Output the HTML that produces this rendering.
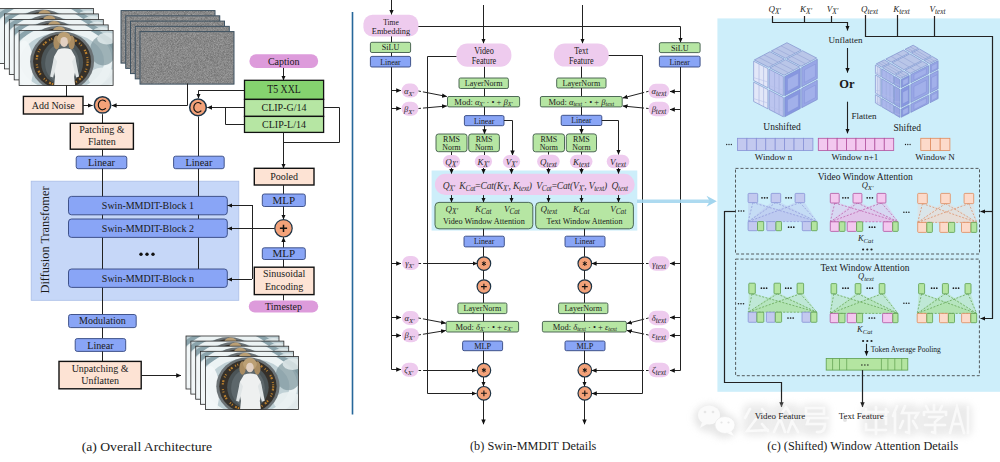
<!DOCTYPE html>
<html><head><meta charset="utf-8"><style>
html,body{margin:0;padding:0;background:#fff;width:1000px;height:462px;overflow:hidden;font-family:"Liberation Serif",serif;}
svg{display:block}
</style></head><body>
<svg width="1000" height="462" viewBox="0 0 1000 462" font-family="Liberation Serif">
<defs>
<marker id="ah" markerWidth="6" markerHeight="6" refX="4.8" refY="3" orient="auto" markerUnits="userSpaceOnUse"><path d="M0 0.8 L5 3 L0 5.2 Z" fill="#111"/></marker>
<marker id="ahb" markerWidth="12" markerHeight="12" refX="10" refY="6" orient="auto" markerUnits="userSpaceOnUse"><path d="M0 0 L11 6 L0 12 Z" fill="#8ecfea"/></marker>
<radialGradient id="pbg" cx="0.5" cy="0.55" r="0.65"><stop offset="0" stop-color="#cfd8da"/><stop offset="0.5" stop-color="#aebfc4"/><stop offset="0.8" stop-color="#dce6e8"/><stop offset="1" stop-color="#9fb1b6"/></radialGradient>
<radialGradient id="pring" cx="0.5" cy="0.5" r="0.5"><stop offset="0" stop-color="#5a5046"/><stop offset="0.6" stop-color="#3b342c"/><stop offset="0.85" stop-color="#6b6a68"/><stop offset="1" stop-color="#9aa8ac" stop-opacity="0"/></radialGradient>
<filter id="nz" x="0" y="0" width="1" height="1" color-interpolation-filters="sRGB"><feTurbulence type="fractalNoise" baseFrequency="1.7" numOctaves="1" seed="3"/><feColorMatrix type="matrix" values="0.32 0 0 0 0.375  0.32 0 0 0 0.375  0.32 0 0 0 0.375  0 0 0 0 1"/><feGaussianBlur stdDeviation="0.35"/><feComposite in2="SourceGraphic" operator="in"/></filter>
<symbol id="photo" viewBox="0 0 94 55" preserveAspectRatio="none">
<rect width="94" height="55" fill="#c0d1d6"/>
<ellipse cx="43" cy="31" rx="56" ry="37" fill="none" stroke="#75919a" stroke-width="5" opacity="0.7"/>
<ellipse cx="43" cy="31" rx="46" ry="33" fill="none" stroke="#eef4f5" stroke-width="8" opacity="0.95"/>
<ellipse cx="5" cy="36" rx="9" ry="26" fill="#f2f7f8" opacity="0.95"/>
<ellipse cx="84" cy="47" rx="15" ry="10" fill="#eaf1f2" opacity="0.9"/>
<ellipse cx="84" cy="20" rx="13" ry="15" fill="#7d959d" opacity="0.7"/><ellipse cx="88" cy="8" rx="10" ry="6" fill="#e4ecee" opacity="0.8"/>
<ellipse cx="43" cy="31" rx="32" ry="30" fill="#6b7275"/>
<ellipse cx="43" cy="31" rx="29" ry="27.5" fill="#35302a"/>
<ellipse cx="43" cy="31" rx="25.5" ry="24.5" fill="none" stroke="#c98a30" stroke-width="2.2" stroke-dasharray="1.5,1,2,3,1,1.5,1,5" opacity="0.9"/>
<ellipse cx="43" cy="32" rx="21" ry="22.5" fill="#4b5457"/><ellipse cx="43" cy="33" rx="17" ry="20" fill="#5d676b"/>
<ellipse cx="37.5" cy="12" rx="3.2" ry="7" fill="#a98c62"/>
<ellipse cx="52.5" cy="12" rx="3.2" ry="7" fill="#a98c62"/>
<ellipse cx="45" cy="8" rx="7" ry="6.5" fill="#bb9f74"/>
<ellipse cx="45" cy="11.5" rx="3.8" ry="5" fill="#e2d0c2"/>
<path d="M39 19 Q45.5 16.5 52 19 L56 26 Q57.5 37 55 46 L56 55 L35 55 L36 46 Q33.5 37 35 26 Z" fill="#eef0f0"/>
<path d="M35 26 L31 46 L34 47 L38 31 Z M56 26 L60 46 L57 47 L53 31 Z" fill="#e0e5e6"/>
</symbol>
<filter id="wmb" x="-20%" y="-20%" width="140%" height="140%"><feGaussianBlur stdDeviation="3.5"/></filter>
</defs>
<rect width="1000" height="462" fill="#fff"/>
<use href="#photo" x="-0.5" y="8.4" width="94" height="55"/>
<rect x="-0.5" y="8.4" width="94" height="55" fill="none" stroke="#2b2b2b" stroke-width="0.8"/>
<use href="#photo" x="4.4" y="13.9" width="94" height="55"/>
<rect x="4.4" y="13.9" width="94" height="55" fill="none" stroke="#2b2b2b" stroke-width="0.8"/>
<use href="#photo" x="9.3" y="19.4" width="94" height="55"/>
<rect x="9.3" y="19.4" width="94" height="55" fill="none" stroke="#2b2b2b" stroke-width="0.8"/>
<use href="#photo" x="14.200000000000001" y="24.9" width="94" height="55"/>
<rect x="14.200000000000001" y="24.9" width="94" height="55" fill="none" stroke="#2b2b2b" stroke-width="0.8"/>
<use href="#photo" x="19.1" y="30.4" width="94" height="55"/>
<rect x="19.1" y="30.4" width="94" height="55" fill="none" stroke="#2b2b2b" stroke-width="0.8"/>
<path d="M66.5 85.4 L66.5 96.4" fill="none" stroke="#222" stroke-width="1"/>
<rect x="23.4" y="96.4" width="59.6" height="17.6" rx="0" fill="#fde3d4" stroke="#111" stroke-width="1.4" />
<text x="53.2" y="108.60000000000001" font-size="10" text-anchor="middle" fill="#1a1a1a" font-style="normal" font-weight="normal" >Add Noise</text>
<path d="M83 105.5 L92.6 105.5" fill="none" stroke="#222" stroke-width="1" marker-end="url(#ah)"/>
<rect x="121.0" y="10.6" width="94" height="52.5" fill="#8c8c8c"/>
<rect x="121.0" y="10.6" width="94" height="52.5" fill="#000" filter="url(#nz)"/>
<rect x="121.0" y="10.6" width="94" height="52.5" fill="none" stroke="#3e5262" stroke-width="1"/>
<rect x="125.75" y="15.85" width="94" height="52.5" fill="#8c8c8c"/>
<rect x="125.75" y="15.85" width="94" height="52.5" fill="#000" filter="url(#nz)"/>
<rect x="125.75" y="15.85" width="94" height="52.5" fill="none" stroke="#3e5262" stroke-width="1"/>
<rect x="130.5" y="21.1" width="94" height="52.5" fill="#8c8c8c"/>
<rect x="130.5" y="21.1" width="94" height="52.5" fill="#000" filter="url(#nz)"/>
<rect x="130.5" y="21.1" width="94" height="52.5" fill="none" stroke="#3e5262" stroke-width="1"/>
<rect x="135.25" y="26.35" width="94" height="52.5" fill="#8c8c8c"/>
<rect x="135.25" y="26.35" width="94" height="52.5" fill="#000" filter="url(#nz)"/>
<rect x="135.25" y="26.35" width="94" height="52.5" fill="none" stroke="#3e5262" stroke-width="1"/>
<rect x="140.0" y="31.6" width="94" height="52.5" fill="#8c8c8c"/>
<rect x="140.0" y="31.6" width="94" height="52.5" fill="#000" filter="url(#nz)"/>
<rect x="140.0" y="31.6" width="94" height="52.5" fill="none" stroke="#3e5262" stroke-width="1"/>
<path d="M187.5 83.5 L187.5 105.5 L111.8 105.5" fill="none" stroke="#222" stroke-width="1" marker-end="url(#ah)"/>
<circle cx="102.5" cy="104.9" r="8.2" fill="#f3a279" stroke="#1c3346" stroke-width="1.5"/>
<path d="M105.80 101.62 A4.3 4.9 0 1 0 105.80 108.18" fill="none" stroke="#111" stroke-width="1.15"/>
<path d="M102.5 114.2 L102.5 123.3" fill="none" stroke="#222" stroke-width="1"/>
<rect x="70.3" y="123.3" width="63.1" height="25.9" rx="0" fill="#fde3d4" stroke="#111" stroke-width="1.4" />
<text x="101.85" y="132.79999999999998" font-size="10" text-anchor="middle" fill="#1a1a1a" font-style="normal" font-weight="normal" >Patching &amp;</text>
<text x="101.85" y="144.89999999999998" font-size="10" text-anchor="middle" fill="#1a1a1a" font-style="normal" font-weight="normal" >Flatten</text>
<path d="M102.5 149.2 L102.5 156.2" fill="none" stroke="#222" stroke-width="1"/>
<rect x="76.2" y="156.2" width="50.6" height="12.5" rx="2" fill="#89a5f6" stroke="#33467f" stroke-width="0.9" />
<text x="101.5" y="166.19" font-size="11" text-anchor="middle" fill="#1a1a1a" font-style="normal" font-weight="normal"  textLength="27" lengthAdjust="spacingAndGlyphs">Linear</text>
<path d="M244.5 90.5 L198.5 90.5 L198.5 98.3" fill="none" stroke="#222" stroke-width="1" marker-end="url(#ah)"/>
<path d="M244.5 107.5 L207.3 107.5" fill="none" stroke="#222" stroke-width="1" marker-end="url(#ah)"/>
<path d="M244.5 124.5 L225.5 124.5 L225.5 107.5" fill="none" stroke="#222" stroke-width="1"/>
<circle cx="198" cy="107.4" r="8.3" fill="#f3a279" stroke="#1c3346" stroke-width="1.5"/>
<path d="M201.30 104.12 A4.3 4.9 0 1 0 201.30 110.68" fill="none" stroke="#111" stroke-width="1.15"/>
<path d="M198.5 116.5 L198.5 156.2" fill="none" stroke="#222" stroke-width="1"/>
<rect x="173.6" y="156.2" width="50.6" height="12.5" rx="2" fill="#89a5f6" stroke="#33467f" stroke-width="0.9" />
<text x="198.9" y="166.19" font-size="11" text-anchor="middle" fill="#1a1a1a" font-style="normal" font-weight="normal"  textLength="27" lengthAdjust="spacingAndGlyphs">Linear</text>
<rect x="31.2" y="181.2" width="207.6" height="119.1" rx="0" fill="#c6d7f8" stroke="#a9bde6" stroke-width="0.8" />
<path d="M102.5 168.7 L102.5 314.5" fill="none" stroke="#222" stroke-width="1"/>
<path d="M198.5 168.7 L198.5 269" fill="none" stroke="#222" stroke-width="1"/>
<rect x="68.5" y="196.4" width="158.8" height="18.4" rx="3" fill="#89a5f6" stroke="#33467f" stroke-width="0.9" />
<text x="147.9" y="209.0" font-size="10" text-anchor="middle" fill="#1a1a1a" font-style="normal" font-weight="normal" >Swin-MMDIT-Block 1</text>
<rect x="68.5" y="219" width="158.8" height="18.4" rx="3" fill="#89a5f6" stroke="#33467f" stroke-width="0.9" />
<text x="147.9" y="231.6" font-size="10" text-anchor="middle" fill="#1a1a1a" font-style="normal" font-weight="normal" >Swin-MMDIT-Block 2</text>
<rect x="68.5" y="269" width="158.8" height="18.4" rx="3" fill="#89a5f6" stroke="#33467f" stroke-width="0.9" />
<text x="147.9" y="281.6" font-size="10" text-anchor="middle" fill="#1a1a1a" font-style="normal" font-weight="normal" >Swin-MMDIT-Block n</text>
<circle cx="141" cy="254.2" r="1.7" fill="#111"/>
<circle cx="147" cy="254.2" r="1.7" fill="#111"/>
<circle cx="153" cy="254.2" r="1.7" fill="#111"/>
<text x="0" y="0" font-size="12.3" text-anchor="middle" fill="#1a1a1a" font-style="normal" font-weight="normal" transform="translate(49.3,240) rotate(-90)" textLength="107" lengthAdjust="spacingAndGlyphs">Diffusion Transfomer</text>
<rect x="249.4" y="54.2" width="68.8" height="13.7" rx="6.8" fill="#dd9bdb" stroke="none" stroke-width="0" />
<text x="283.8" y="64.6" font-size="10" text-anchor="middle" fill="#1a1a1a" font-style="normal" font-weight="normal" >Caption</text>
<path d="M283.5 67.9 L283.5 80.3" fill="none" stroke="#222" stroke-width="1" marker-end="url(#ah)"/>
<rect x="244.5" y="80.3" width="79.1" height="19.1" rx="0" fill="#85d36f" stroke="#111" stroke-width="1.3" />
<text x="284" y="93.3" font-size="11.5" text-anchor="middle" fill="#1a1a1a" font-style="normal" font-weight="normal" textLength="33.6" lengthAdjust="spacingAndGlyphs">T5 XXL</text>
<rect x="244.5" y="99.4" width="79.1" height="17" rx="0" fill="#b6e6a3" stroke="#111" stroke-width="1.3" />
<text x="284" y="111.3" font-size="10" text-anchor="middle" fill="#1a1a1a" font-style="normal" font-weight="normal" >CLIP-G/14</text>
<rect x="244.5" y="116.4" width="79.1" height="16" rx="0" fill="#b6e6a3" stroke="#111" stroke-width="1.3" />
<text x="284" y="128" font-size="10" text-anchor="middle" fill="#1a1a1a" font-style="normal" font-weight="normal" >CLIP-L/14</text>
<path d="M323.6 107.5 L339.5 107.5 L339.5 142.5 L283.3 142.5" fill="none" stroke="#222" stroke-width="1"/>
<path d="M283.5 132.4 L283.5 168.3" fill="none" stroke="#222" stroke-width="1" marker-end="url(#ah)"/>
<rect x="254.3" y="168.3" width="59.7" height="16.7" rx="0" fill="#fde3d4" stroke="#111" stroke-width="1.4" />
<text x="284.15000000000003" y="180.05" font-size="10" text-anchor="middle" fill="#1a1a1a" font-style="normal" font-weight="normal" >Pooled</text>
<path d="M283.5 185 L283.5 194" fill="none" stroke="#222" stroke-width="1"/>
<rect x="262.3" y="194" width="43" height="12.5" rx="2" fill="#89a5f6" stroke="#33467f" stroke-width="0.9" />
<text x="283.8" y="203.99" font-size="11" text-anchor="middle" fill="#1a1a1a" font-style="normal" font-weight="normal" >MLP</text>
<path d="M283.5 206.5 L283.5 219.4" fill="none" stroke="#222" stroke-width="1" marker-end="url(#ah)"/>
<path d="M274.8 228.5 L227.6 228.5" fill="none" stroke="#222" stroke-width="1" marker-end="url(#ah)"/>
<path d="M252.5 205 L252.5 279" fill="none" stroke="#222" stroke-width="1"/>
<path d="M252 205.5 L227.6 205.5" fill="none" stroke="#222" stroke-width="1" marker-end="url(#ah)"/>
<path d="M252 279.5 L227.6 279.5" fill="none" stroke="#222" stroke-width="1" marker-end="url(#ah)"/>
<circle cx="283.5" cy="228.3" r="8.7" fill="#f3a279" stroke="#1c3346" stroke-width="1.2"/>
<path d="M279.9 228.3 H287.1 M283.5 224.70000000000002 V231.9" stroke="#111" stroke-width="1.5"/>
<path d="M283.5 247.8 L283.5 237.2" fill="none" stroke="#222" stroke-width="1" marker-end="url(#ah)"/>
<rect x="262.3" y="247.8" width="43" height="11.7" rx="2" fill="#89a5f6" stroke="#33467f" stroke-width="0.9" />
<text x="283.8" y="257.39" font-size="11" text-anchor="middle" fill="#1a1a1a" font-style="normal" font-weight="normal" >MLP</text>
<path d="M283.5 259.5 L283.5 267.2" fill="none" stroke="#222" stroke-width="1"/>
<rect x="254.3" y="267.2" width="59.7" height="27.4" rx="0" fill="#fde3d4" stroke="#111" stroke-width="1.4" />
<text x="284.15000000000003" y="277.45" font-size="10" text-anchor="middle" fill="#1a1a1a" font-style="normal" font-weight="normal" >Sinusoidal</text>
<text x="284.15000000000003" y="289.55" font-size="10" text-anchor="middle" fill="#1a1a1a" font-style="normal" font-weight="normal" >Encoding</text>
<path d="M283.5 294.6 L283.5 300.5" fill="none" stroke="#222" stroke-width="1"/>
<rect x="248.8" y="300.5" width="69.4" height="12.1" rx="6" fill="#dd9bdb" stroke="none" stroke-width="0" />
<text x="283.5" y="309.9" font-size="10" text-anchor="middle" fill="#1a1a1a" font-style="normal" font-weight="normal" >Timestep</text>
<rect x="68.6" y="314.5" width="67.6" height="13.1" rx="2" fill="#89a5f6" stroke="#33467f" stroke-width="0.9" />
<text x="102.39999999999999" y="324.45" font-size="10" text-anchor="middle" fill="#1a1a1a" font-style="normal" font-weight="normal" >Modulation</text>
<path d="M102.5 327.6 L102.5 338.6" fill="none" stroke="#222" stroke-width="1"/>
<rect x="75.2" y="338.6" width="50.5" height="12.8" rx="2" fill="#89a5f6" stroke="#33467f" stroke-width="0.9" />
<text x="100.45" y="348.74" font-size="11" text-anchor="middle" fill="#1a1a1a" font-style="normal" font-weight="normal"  textLength="26.5" lengthAdjust="spacingAndGlyphs">Linear</text>
<path d="M102.5 351.4 L102.5 361.4" fill="none" stroke="#222" stroke-width="1"/>
<rect x="59" y="361.4" width="82.2" height="27.4" rx="0" fill="#fde3d4" stroke="#111" stroke-width="1.4" />
<text x="100.1" y="371.65" font-size="10" text-anchor="middle" fill="#1a1a1a" font-style="normal" font-weight="normal" >Unpatching &amp;</text>
<text x="100.1" y="383.75" font-size="10" text-anchor="middle" fill="#1a1a1a" font-style="normal" font-weight="normal" >Unflatten</text>
<path d="M141.2 375.5 L181 375.5" fill="none" stroke="#222" stroke-width="1" marker-end="url(#ah)"/>
<use href="#photo" x="186.0" y="336.0" width="93" height="53"/>
<rect x="186.0" y="336.0" width="93" height="53" fill="none" stroke="#2b2b2b" stroke-width="0.8"/>
<use href="#photo" x="190.85" y="341.1" width="93" height="53"/>
<rect x="190.85" y="341.1" width="93" height="53" fill="none" stroke="#2b2b2b" stroke-width="0.8"/>
<use href="#photo" x="195.7" y="346.2" width="93" height="53"/>
<rect x="195.7" y="346.2" width="93" height="53" fill="none" stroke="#2b2b2b" stroke-width="0.8"/>
<use href="#photo" x="200.55" y="351.3" width="93" height="53"/>
<rect x="200.55" y="351.3" width="93" height="53" fill="none" stroke="#2b2b2b" stroke-width="0.8"/>
<use href="#photo" x="205.4" y="356.4" width="93" height="53"/>
<rect x="205.4" y="356.4" width="93" height="53" fill="none" stroke="#2b2b2b" stroke-width="0.8"/>
<text x="146.9" y="450.5" font-size="13.5" text-anchor="middle" fill="#1a1a1a" font-style="normal" font-weight="normal" textLength="130.5" lengthAdjust="spacingAndGlyphs">(a) Overall Architecture</text>
<path d="M352.5 12 L352.5 414.5" fill="none" stroke="#26679a" stroke-width="1.6"/>
<path d="M391.5 0 L391.5 14.6" fill="none" stroke="#222" stroke-width="1" marker-end="url(#ah)"/>
<rect x="363.4" y="14.8" width="55" height="21.6" rx="9" fill="#eecbee" stroke="none" stroke-width="0" />
<text x="391" y="25" font-size="8.5" text-anchor="middle" fill="#1a1a1a" font-style="normal" font-weight="normal"  textLength="15.5" lengthAdjust="spacingAndGlyphs">Time</text>
<text x="391" y="34" font-size="8.5" text-anchor="middle" fill="#1a1a1a" font-style="normal" font-weight="normal"  textLength="38.4" lengthAdjust="spacingAndGlyphs">Embedding</text>
<path d="M418.4 26.5 L680.5 26.5 L680.5 42.5" fill="none" stroke="#222" stroke-width="1" marker-end="url(#ah)"/>
<path d="M391.5 36.4 L391.5 369.5 L401 369.5" fill="none" stroke="#222" stroke-width="1" marker-end="url(#ah)"/>
<rect x="370.4" y="42.3" width="40.2" height="10.2" rx="1.5" fill="#b6e6a3" stroke="#3e5a48" stroke-width="0.9" />
<text x="390.5" y="50.46" font-size="9" text-anchor="middle" fill="#1a1a1a" font-style="normal" font-weight="normal"  textLength="17.6" lengthAdjust="spacingAndGlyphs">SiLU</text>
<rect x="370.4" y="56.4" width="40.2" height="10.6" rx="1.5" fill="#89a5f6" stroke="#33467f" stroke-width="0.9" />
<text x="390.5" y="64.75999999999999" font-size="9" text-anchor="middle" fill="#1a1a1a" font-style="normal" font-weight="normal"  textLength="20.3" lengthAdjust="spacingAndGlyphs">Linear</text>
<path d="M391 90.5 L401 90.5" fill="none" stroke="#222" stroke-width="1" marker-end="url(#ah)"/>
<path d="M391 108.5 L401 108.5" fill="none" stroke="#222" stroke-width="1" marker-end="url(#ah)"/>
<path d="M391 263.5 L401 263.5" fill="none" stroke="#222" stroke-width="1" marker-end="url(#ah)"/>
<path d="M391 317.5 L401 317.5" fill="none" stroke="#222" stroke-width="1" marker-end="url(#ah)"/>
<path d="M391 335.5 L401 335.5" fill="none" stroke="#222" stroke-width="1" marker-end="url(#ah)"/>
<rect x="401.5" y="83.6" width="17" height="14" rx="7.0" fill="#eecbee"/>
<text x="409" y="93.6" font-size="8.5" text-anchor="middle" font-style="italic" fill="#262626">α<tspan font-size="6.72" dy="2">X&#8242;</tspan></text>
<rect x="401.5" y="101.7" width="17" height="14" rx="7.0" fill="#eecbee"/>
<text x="409" y="111.7" font-size="8.5" text-anchor="middle" font-style="italic" fill="#262626">β<tspan font-size="6.72" dy="2">X&#8242;</tspan></text>
<rect x="402.1" y="256.0" width="17" height="14" rx="7.0" fill="#eecbee"/>
<text x="409.6" y="266" font-size="8.5" text-anchor="middle" font-style="italic" fill="#262626">γ<tspan font-size="6.72" dy="2">X&#8242;</tspan></text>
<rect x="402.0" y="310.9" width="17" height="14" rx="7.0" fill="#eecbee"/>
<text x="409.5" y="320.9" font-size="8.5" text-anchor="middle" font-style="italic" fill="#262626">α<tspan font-size="6.72" dy="2">X&#8242;</tspan></text>
<rect x="402.0" y="328.2" width="17" height="14" rx="7.0" fill="#eecbee"/>
<text x="409.5" y="338.2" font-size="8.5" text-anchor="middle" font-style="italic" fill="#262626">β<tspan font-size="6.72" dy="2">X&#8242;</tspan></text>
<rect x="401.3" y="362.8" width="17" height="14" rx="7.0" fill="#eecbee"/>
<text x="408.8" y="372.8" font-size="8.5" text-anchor="middle" font-style="italic" fill="#262626">ζ<tspan font-size="6.72" dy="2">X&#8242;</tspan></text>
<path d="M483.5 5 L483.5 43.4" fill="none" stroke="#222" stroke-width="1" marker-end="url(#ah)"/>
<rect x="456.4" y="43.6" width="55" height="23.2" rx="11" fill="#eecbee" stroke="none" stroke-width="0" />
<text x="484" y="53.5" font-size="9.5" text-anchor="middle" fill="#1a1a1a" font-style="normal" font-weight="normal"  textLength="19.6" lengthAdjust="spacingAndGlyphs">Video</text>
<text x="484" y="63.5" font-size="9.5" text-anchor="middle" fill="#1a1a1a" font-style="normal" font-weight="normal"  textLength="24.5" lengthAdjust="spacingAndGlyphs">Feature</text>
<path d="M456.4 56.5 L427.5 56.5 L427.5 393.5 L476.5 393.5" fill="none" stroke="#222" stroke-width="1" marker-end="url(#ah)"/>
<path d="M484.5 66.8 L484.5 78" fill="none" stroke="#222" stroke-width="1"/>
<rect x="459" y="78" width="49.4" height="10.5" rx="1.5" fill="#b6e6a3" stroke="#3e5a48" stroke-width="0.9" />
<text x="483.7" y="86.14" font-size="8.5" text-anchor="middle" fill="#1a1a1a" font-style="normal" font-weight="normal"  textLength="37.7" lengthAdjust="spacingAndGlyphs">LayerNorm</text>
<path d="M484.5 88.5 L484.5 96.5" fill="none" stroke="#222" stroke-width="1"/>
<rect x="447.5" y="96.5" width="72.1" height="10.4" rx="1.5" fill="#b6e6a3" stroke="#3e5a48" stroke-width="0.9" />
<text x="483.5" y="104.5" font-size="8.5" text-anchor="middle" fill="#222">Mod: <tspan font-style="italic">α</tspan><tspan font-size="6" dy="1.5" font-style="italic">X&#8242;</tspan><tspan dy="-1.5"> · • + </tspan><tspan font-style="italic">β</tspan><tspan font-size="6" dy="1.5" font-style="italic">X&#8242;</tspan></text>
<path d="M484.5 106.9 L484.5 115.6" fill="none" stroke="#222" stroke-width="1"/>
<rect x="464.4" y="115.6" width="39.6" height="10.1" rx="1.5" fill="#89a5f6" stroke="#33467f" stroke-width="0.9" />
<text x="484.2" y="123.71" font-size="9" text-anchor="middle" fill="#1a1a1a" font-style="normal" font-weight="normal"  textLength="20.3" lengthAdjust="spacingAndGlyphs">Linear</text>
<path d="M484.5 125.7 L484.5 134" fill="none" stroke="#222" stroke-width="1" marker-end="url(#ah)"/>
<path d="M504 120.5 L512.5 120.5 L512.5 155.2" fill="none" stroke="#222" stroke-width="1" marker-end="url(#ah)"/>
<rect x="436" y="134" width="31" height="17.7" rx="2.5" fill="#b6e6a3" stroke="#3e5a48" stroke-width="0.9" />
<text x="451.5" y="141.5" font-size="8.5" text-anchor="middle" fill="#1a1a1a" font-style="normal" font-weight="normal"  textLength="16.8" lengthAdjust="spacingAndGlyphs">RMS</text>
<text x="451.5" y="150" font-size="8.5" text-anchor="middle" fill="#1a1a1a" font-style="normal" font-weight="normal"  textLength="18.3" lengthAdjust="spacingAndGlyphs">Norm</text>
<rect x="468.7" y="134" width="30.7" height="17.7" rx="2.5" fill="#b6e6a3" stroke="#3e5a48" stroke-width="0.9" />
<text x="484.05" y="141.5" font-size="8.5" text-anchor="middle" fill="#1a1a1a" font-style="normal" font-weight="normal"  textLength="16.8" lengthAdjust="spacingAndGlyphs">RMS</text>
<text x="484.05" y="150" font-size="8.5" text-anchor="middle" fill="#1a1a1a" font-style="normal" font-weight="normal"  textLength="18.3" lengthAdjust="spacingAndGlyphs">Norm</text>
<path d="M451.5 151.7 L451.5 155.2" fill="none" stroke="#222" stroke-width="1"/>
<path d="M484.5 151.7 L484.5 155.2" fill="none" stroke="#222" stroke-width="1"/>
<path d="M582.5 5 L582.5 43.4" fill="none" stroke="#222" stroke-width="1" marker-end="url(#ah)"/>
<rect x="553.9" y="43.6" width="54.8" height="23" rx="11" fill="#eecbee" stroke="none" stroke-width="0" />
<text x="581.3" y="53.5" font-size="9.5" text-anchor="middle" fill="#1a1a1a" font-style="normal" font-weight="normal"  textLength="14" lengthAdjust="spacingAndGlyphs">Text</text>
<text x="581.3" y="63.5" font-size="9.5" text-anchor="middle" fill="#1a1a1a" font-style="normal" font-weight="normal"  textLength="24.5" lengthAdjust="spacingAndGlyphs">Feature</text>
<path d="M608.7 55.5 L642.5 55.5 L642.5 393.5 L592 393.5" fill="none" stroke="#222" stroke-width="1" marker-end="url(#ah)"/>
<path d="M581.5 66.6 L581.5 78" fill="none" stroke="#222" stroke-width="1"/>
<rect x="556.7" y="78" width="49.3" height="10" rx="1.5" fill="#b6e6a3" stroke="#3e5a48" stroke-width="0.9" />
<text x="581.35" y="85.89" font-size="8.5" text-anchor="middle" fill="#1a1a1a" font-style="normal" font-weight="normal"  textLength="37.7" lengthAdjust="spacingAndGlyphs">LayerNorm</text>
<path d="M581.5 88 L581.5 96.5" fill="none" stroke="#222" stroke-width="1"/>
<rect x="540.4" y="96.5" width="81.8" height="10.4" rx="1.5" fill="#b6e6a3" stroke="#3e5a48" stroke-width="0.9" />
<text x="581.3" y="104.5" font-size="8.5" text-anchor="middle" fill="#222">Mod: <tspan font-style="italic">α</tspan><tspan font-size="6" dy="1.5" font-style="italic">text</tspan><tspan dy="-1.5"> · • + </tspan><tspan font-style="italic">β</tspan><tspan font-size="6" dy="1.5" font-style="italic">text</tspan></text>
<path d="M581.5 106.9 L581.5 115.3" fill="none" stroke="#222" stroke-width="1"/>
<rect x="561.2" y="115.3" width="40.6" height="10.2" rx="1.5" fill="#89a5f6" stroke="#33467f" stroke-width="0.9" />
<text x="581.5" y="123.46" font-size="9" text-anchor="middle" fill="#1a1a1a" font-style="normal" font-weight="normal"  textLength="20.3" lengthAdjust="spacingAndGlyphs">Linear</text>
<path d="M581.5 125.5 L581.5 133.9" fill="none" stroke="#222" stroke-width="1" marker-end="url(#ah)"/>
<path d="M601.8 120.5 L618.5 120.5 L618.5 154.5" fill="none" stroke="#222" stroke-width="1" marker-end="url(#ah)"/>
<rect x="533.1" y="133.9" width="31.4" height="17.9" rx="2.5" fill="#b6e6a3" stroke="#3e5a48" stroke-width="0.9" />
<text x="548.8000000000001" y="141.5" font-size="8.5" text-anchor="middle" fill="#1a1a1a" font-style="normal" font-weight="normal"  textLength="16.8" lengthAdjust="spacingAndGlyphs">RMS</text>
<text x="548.8000000000001" y="150" font-size="8.5" text-anchor="middle" fill="#1a1a1a" font-style="normal" font-weight="normal"  textLength="18.3" lengthAdjust="spacingAndGlyphs">Norm</text>
<rect x="566.3" y="133.9" width="30.2" height="17.9" rx="2.5" fill="#b6e6a3" stroke="#3e5a48" stroke-width="0.9" />
<text x="581.4" y="141.5" font-size="8.5" text-anchor="middle" fill="#1a1a1a" font-style="normal" font-weight="normal"  textLength="16.8" lengthAdjust="spacingAndGlyphs">RMS</text>
<text x="581.4" y="150" font-size="8.5" text-anchor="middle" fill="#1a1a1a" font-style="normal" font-weight="normal"  textLength="18.3" lengthAdjust="spacingAndGlyphs">Norm</text>
<path d="M548.5 151.8 L548.5 154.7" fill="none" stroke="#222" stroke-width="1"/>
<path d="M581.5 151.8 L581.5 154.7" fill="none" stroke="#222" stroke-width="1"/>
<rect x="659.4" y="42.7" width="40.7" height="9.9" rx="1.5" fill="#b6e6a3" stroke="#3e5a48" stroke-width="0.9" />
<text x="679.75" y="50.71000000000001" font-size="9" text-anchor="middle" fill="#1a1a1a" font-style="normal" font-weight="normal"  textLength="17.6" lengthAdjust="spacingAndGlyphs">SiLU</text>
<rect x="659.4" y="56.2" width="40.7" height="10.8" rx="1.5" fill="#89a5f6" stroke="#33467f" stroke-width="0.9" />
<text x="679.75" y="64.66" font-size="9" text-anchor="middle" fill="#1a1a1a" font-style="normal" font-weight="normal"  textLength="20.3" lengthAdjust="spacingAndGlyphs">Linear</text>
<path d="M680.5 67 L680.5 370.5 L670 370.5" fill="none" stroke="#222" stroke-width="1" marker-end="url(#ah)"/>
<path d="M680 91.5 L670 91.5" fill="none" stroke="#222" stroke-width="1" marker-end="url(#ah)"/>
<path d="M680 109.5 L670 109.5" fill="none" stroke="#222" stroke-width="1" marker-end="url(#ah)"/>
<path d="M680 263.5 L670 263.5" fill="none" stroke="#222" stroke-width="1" marker-end="url(#ah)"/>
<path d="M680 317.5 L670 317.5" fill="none" stroke="#222" stroke-width="1" marker-end="url(#ah)"/>
<path d="M680 335.5 L670 335.5" fill="none" stroke="#222" stroke-width="1" marker-end="url(#ah)"/>
<rect x="648.5" y="83.85" width="21" height="14.5" rx="7.25" fill="#eecbee"/>
<text x="659" y="94.1" font-size="8.5" text-anchor="middle" font-style="italic" fill="#262626">α<tspan font-size="7.28" dy="2">text</tspan></text>
<rect x="648.5" y="101.75" width="21" height="14.5" rx="7.25" fill="#eecbee"/>
<text x="659" y="112" font-size="8.5" text-anchor="middle" font-style="italic" fill="#262626">β<tspan font-size="7.28" dy="2">text</tspan></text>
<rect x="648.7" y="256.35" width="21" height="14.5" rx="7.25" fill="#eecbee"/>
<text x="659.2" y="266.6" font-size="8.5" text-anchor="middle" font-style="italic" fill="#262626">γ<tspan font-size="7.28" dy="2">text</tspan></text>
<rect x="648.5" y="310.65" width="21" height="14.5" rx="7.25" fill="#eecbee"/>
<text x="659" y="320.9" font-size="8.5" text-anchor="middle" font-style="italic" fill="#262626">δ<tspan font-size="7.28" dy="2">text</tspan></text>
<rect x="648.5" y="327.95" width="21" height="14.5" rx="7.25" fill="#eecbee"/>
<text x="659" y="338.2" font-size="8.5" text-anchor="middle" font-style="italic" fill="#262626">ε<tspan font-size="7.28" dy="2">text</tspan></text>
<rect x="648.5" y="362.75" width="21" height="14.5" rx="7.25" fill="#eecbee"/>
<text x="659" y="373" font-size="8.5" text-anchor="middle" font-style="italic" fill="#262626">ζ<tspan font-size="7.28" dy="2">text</tspan></text>
<rect x="431.6" y="170.5" width="205.7" height="60.1" rx="0" fill="#cdeefa" stroke="none" stroke-width="0" />
<rect x="442.85" y="155.1" width="17.3" height="12.8" rx="6.4" fill="#eecbee"/>
<text x="451.5" y="164.5" font-size="9" text-anchor="middle" font-style="italic" fill="#262626">Q<tspan font-size="7.28" dy="2">X&#8242;</tspan></text>
<rect x="474.75" y="155.1" width="17.3" height="12.8" rx="6.4" fill="#eecbee"/>
<text x="483.4" y="164.5" font-size="9" text-anchor="middle" font-style="italic" fill="#262626">K<tspan font-size="7.28" dy="2">X&#8242;</tspan></text>
<rect x="502.85" y="155.1" width="17.3" height="12.8" rx="6.4" fill="#eecbee"/>
<text x="511.5" y="164.5" font-size="9" text-anchor="middle" font-style="italic" fill="#262626">V<tspan font-size="7.28" dy="2">X&#8242;</tspan></text>
<rect x="537.1" y="154.65" width="22.6" height="13.7" rx="6.85" fill="#eecbee"/>
<text x="548.4" y="164.5" font-size="9" text-anchor="middle" font-style="italic" fill="#262626">Q<tspan font-size="7.28" dy="2">text</tspan></text>
<rect x="569.9000000000001" y="154.65" width="22.6" height="13.7" rx="6.85" fill="#eecbee"/>
<text x="581.2" y="164.5" font-size="9" text-anchor="middle" font-style="italic" fill="#262626">K<tspan font-size="7.28" dy="2">text</tspan></text>
<rect x="606.7" y="154.65" width="22.6" height="13.7" rx="6.85" fill="#eecbee"/>
<text x="618" y="164.5" font-size="9" text-anchor="middle" font-style="italic" fill="#262626">V<tspan font-size="7.28" dy="2">text</tspan></text>
<path d="M451.5 168 L451.5 173.8" fill="none" stroke="#222" stroke-width="1" marker-end="url(#ah)"/>
<path d="M451.5 195.1 L451.5 202.4" fill="none" stroke="#222" stroke-width="1" marker-end="url(#ah)"/>
<path d="M483.5 168 L483.5 173.8" fill="none" stroke="#222" stroke-width="1" marker-end="url(#ah)"/>
<path d="M483.5 195.1 L483.5 202.4" fill="none" stroke="#222" stroke-width="1" marker-end="url(#ah)"/>
<path d="M511.5 168 L511.5 173.8" fill="none" stroke="#222" stroke-width="1" marker-end="url(#ah)"/>
<path d="M511.5 195.1 L511.5 202.4" fill="none" stroke="#222" stroke-width="1" marker-end="url(#ah)"/>
<path d="M548.5 168 L548.5 173.8" fill="none" stroke="#222" stroke-width="1" marker-end="url(#ah)"/>
<path d="M548.5 195.1 L548.5 202.4" fill="none" stroke="#222" stroke-width="1" marker-end="url(#ah)"/>
<path d="M581.5 168 L581.5 173.8" fill="none" stroke="#222" stroke-width="1" marker-end="url(#ah)"/>
<path d="M581.5 195.1 L581.5 202.4" fill="none" stroke="#222" stroke-width="1" marker-end="url(#ah)"/>
<path d="M618.5 168 L618.5 173.8" fill="none" stroke="#222" stroke-width="1" marker-end="url(#ah)"/>
<path d="M618.5 195.1 L618.5 202.4" fill="none" stroke="#222" stroke-width="1" marker-end="url(#ah)"/>
<rect x="434.9" y="173.8" width="199.8" height="21.3" rx="10.6" fill="#eecbee" stroke="none" stroke-width="0" />
<text x="535.3" y="188.6" font-size="9.5" text-anchor="middle" font-style="italic" fill="#333" xml:space="preserve" textLength="185.3" lengthAdjust="spacing">Q<tspan font-size="7.2" dy="2">X&#8242;</tspan><tspan dy="-2">  K</tspan><tspan font-size="7.2" dy="2">Cat</tspan><tspan dy="-2" font-style="normal">=</tspan>Cat(K<tspan font-size="7.2" dy="2">X&#8242;</tspan><tspan dy="-2">, K</tspan><tspan font-size="7.2" dy="2">text</tspan><tspan dy="-2">)  V</tspan><tspan font-size="7.2" dy="2">Cat</tspan><tspan dy="-2" font-style="normal">=</tspan>Cat(V<tspan font-size="7.2" dy="2">X&#8242;</tspan><tspan dy="-2">, V</tspan><tspan font-size="7.2" dy="2">text</tspan><tspan dy="-2">)  Q</tspan><tspan font-size="7.2" dy="2">text</tspan></text>
<rect x="435" y="202.4" width="97.8" height="26.4" rx="4" fill="#b6e6a3" stroke="#3e5a48" stroke-width="0.9" />
<rect x="535.7" y="202.4" width="97.7" height="26.4" rx="4" fill="#b6e6a3" stroke="#3e5a48" stroke-width="0.9" />
<text x="451.8" y="211.5" font-size="9" text-anchor="middle" font-style="italic" fill="#262626">Q<tspan font-size="7.28" dy="2">X&#8242;</tspan></text>
<text x="483.3" y="211.5" font-size="9" text-anchor="middle" font-style="italic" fill="#262626">K<tspan font-size="7.28" dy="2">Cat</tspan></text>
<text x="511.9" y="211.5" font-size="9" text-anchor="middle" font-style="italic" fill="#262626">V<tspan font-size="7.28" dy="2">Cat</tspan></text>
<text x="548.9" y="211.5" font-size="9" text-anchor="middle" font-style="italic" fill="#262626">Q<tspan font-size="7.28" dy="2">text</tspan></text>
<text x="581.2" y="211.5" font-size="9" text-anchor="middle" font-style="italic" fill="#262626">K<tspan font-size="7.28" dy="2">Cat</tspan></text>
<text x="618.2" y="211.5" font-size="9" text-anchor="middle" font-style="italic" fill="#262626">V<tspan font-size="7.28" dy="2">Cat</tspan></text>
<text x="483.9" y="224" font-size="8.5" text-anchor="middle" fill="#1a1a1a" font-style="normal" font-weight="normal"  textLength="81.8" lengthAdjust="spacingAndGlyphs">Video Window Attention</text>
<text x="584.5" y="224" font-size="8.5" text-anchor="middle" fill="#1a1a1a" font-style="normal" font-weight="normal"  textLength="75.9" lengthAdjust="spacingAndGlyphs">Text Window Attention</text>
<path d="M637 199.5 H711 V203.1 H637 Z" fill="#a2d5ee" fill-opacity="0.88"/>
<path d="M706.5 195.8 L716.8 201.3 L706.5 206.8 L709.8 201.3 Z" fill="#a2d5ee"/>
<path d="M483.5 228.8 L483.5 236.2" fill="none" stroke="#222" stroke-width="1"/>
<rect x="464" y="236.2" width="40.3" height="10.7" rx="1.5" fill="#89a5f6" stroke="#33467f" stroke-width="0.9" />
<text x="484.15" y="244.43999999999997" font-size="8.5" text-anchor="middle" fill="#1a1a1a" font-style="normal" font-weight="normal"  textLength="20.3" lengthAdjust="spacingAndGlyphs">Linear</text>
<path d="M483.5 246.9 L483.5 256.8" fill="none" stroke="#222" stroke-width="1"/>
<circle cx="483.9" cy="263.6" r="6.8" fill="#f3a279" stroke="#1c3346" stroke-width="1.2"/>
<line x1="483.90" y1="261.30" x2="483.90" y2="265.90" stroke="#111" stroke-width="1"/>
<line x1="485.89" y1="262.45" x2="481.91" y2="264.75" stroke="#111" stroke-width="1"/>
<line x1="485.89" y1="264.75" x2="481.91" y2="262.45" stroke="#111" stroke-width="1"/>
<path d="M483.5 270.4 L483.5 279.6" fill="none" stroke="#222" stroke-width="1"/>
<circle cx="483.9" cy="286.6" r="6.8" fill="#f3a279" stroke="#1c3346" stroke-width="1.2"/>
<path d="M481.0 286.6 H486.79999999999995 M483.9 283.70000000000005 V289.5" stroke="#111" stroke-width="1.1"/>
<path d="M483.5 293.4 L483.5 303" fill="none" stroke="#222" stroke-width="1"/>
<rect x="457.9" y="303" width="49" height="10.6" rx="1.5" fill="#b6e6a3" stroke="#3e5a48" stroke-width="0.9" />
<text x="482.4" y="311.19" font-size="8.5" text-anchor="middle" fill="#1a1a1a" font-style="normal" font-weight="normal"  textLength="37.7" lengthAdjust="spacingAndGlyphs">LayerNorm</text>
<path d="M483.5 313.6 L483.5 321.4" fill="none" stroke="#222" stroke-width="1"/>
<rect x="446.2" y="321.4" width="72.4" height="10.6" rx="1.5" fill="#b6e6a3" stroke="#3e5a48" stroke-width="0.9" />
<text x="483.9" y="329.6" font-size="8.5" text-anchor="middle" fill="#222">Mod: <tspan font-style="italic">δ</tspan><tspan font-size="6" dy="1.5" font-style="italic">X&#8242;</tspan><tspan dy="-1.5"> · • + </tspan><tspan font-style="italic">ε</tspan><tspan font-size="6" dy="1.5" font-style="italic">X&#8242;</tspan></text>
<path d="M483.5 332 L483.5 341" fill="none" stroke="#222" stroke-width="1"/>
<rect x="462.6" y="341" width="40" height="9.7" rx="1.5" fill="#89a5f6" stroke="#33467f" stroke-width="0.9" />
<text x="482.6" y="348.74" font-size="8.5" text-anchor="middle" fill="#1a1a1a" font-style="normal" font-weight="normal"  textLength="16.9" lengthAdjust="spacingAndGlyphs">MLP</text>
<path d="M483.5 350.7 L483.5 363.4" fill="none" stroke="#222" stroke-width="1"/>
<circle cx="483.9" cy="370.2" r="6.8" fill="#f3a279" stroke="#1c3346" stroke-width="1.2"/>
<line x1="483.90" y1="367.90" x2="483.90" y2="372.50" stroke="#111" stroke-width="1"/>
<line x1="485.89" y1="369.05" x2="481.91" y2="371.35" stroke="#111" stroke-width="1"/>
<line x1="485.89" y1="371.35" x2="481.91" y2="369.05" stroke="#111" stroke-width="1"/>
<path d="M483.5 377 L483.5 386.4" fill="none" stroke="#222" stroke-width="1" marker-end="url(#ah)"/>
<circle cx="483.9" cy="393.3" r="6.8" fill="#f3a279" stroke="#1c3346" stroke-width="1.2"/>
<path d="M481.0 393.3 H486.79999999999995 M483.9 390.40000000000003 V396.2" stroke="#111" stroke-width="1.1"/>
<path d="M483.5 400.1 L483.5 424.2" fill="none" stroke="#222" stroke-width="1" marker-end="url(#ah)"/>
<path d="M584.5 228.8 L584.5 236.2" fill="none" stroke="#222" stroke-width="1"/>
<rect x="565" y="236.2" width="40" height="10.7" rx="1.5" fill="#89a5f6" stroke="#33467f" stroke-width="0.9" />
<text x="585.0" y="244.43999999999997" font-size="8.5" text-anchor="middle" fill="#1a1a1a" font-style="normal" font-weight="normal"  textLength="20.3" lengthAdjust="spacingAndGlyphs">Linear</text>
<path d="M584.5 246.9 L584.5 256.8" fill="none" stroke="#222" stroke-width="1"/>
<circle cx="584.8" cy="263.6" r="6.8" fill="#f3a279" stroke="#1c3346" stroke-width="1.2"/>
<line x1="584.80" y1="261.30" x2="584.80" y2="265.90" stroke="#111" stroke-width="1"/>
<line x1="586.79" y1="262.45" x2="582.81" y2="264.75" stroke="#111" stroke-width="1"/>
<line x1="586.79" y1="264.75" x2="582.81" y2="262.45" stroke="#111" stroke-width="1"/>
<path d="M584.5 270.4 L584.5 279.6" fill="none" stroke="#222" stroke-width="1"/>
<circle cx="584.8" cy="286.6" r="6.8" fill="#f3a279" stroke="#1c3346" stroke-width="1.2"/>
<path d="M581.9 286.6 H587.6999999999999 M584.8 283.70000000000005 V289.5" stroke="#111" stroke-width="1.1"/>
<path d="M584.5 293.4 L584.5 303" fill="none" stroke="#222" stroke-width="1"/>
<rect x="558.6" y="303" width="49.3" height="10.6" rx="1.5" fill="#b6e6a3" stroke="#3e5a48" stroke-width="0.9" />
<text x="583.25" y="311.19" font-size="8.5" text-anchor="middle" fill="#1a1a1a" font-style="normal" font-weight="normal"  textLength="37.7" lengthAdjust="spacingAndGlyphs">LayerNorm</text>
<path d="M584.5 313.6 L584.5 321.4" fill="none" stroke="#222" stroke-width="1"/>
<rect x="542.4" y="321.4" width="84" height="10.6" rx="1.5" fill="#b6e6a3" stroke="#3e5a48" stroke-width="0.9" />
<text x="584.8" y="329.6" font-size="8.5" text-anchor="middle" fill="#222">Mod: <tspan font-style="italic">δ</tspan><tspan font-size="6" dy="1.5" font-style="italic">text</tspan><tspan dy="-1.5"> · • + </tspan><tspan font-style="italic">ε</tspan><tspan font-size="6" dy="1.5" font-style="italic">text</tspan></text>
<path d="M584.5 332 L584.5 341" fill="none" stroke="#222" stroke-width="1"/>
<rect x="565" y="341" width="40" height="9.7" rx="1.5" fill="#89a5f6" stroke="#33467f" stroke-width="0.9" />
<text x="585.0" y="348.74" font-size="8.5" text-anchor="middle" fill="#1a1a1a" font-style="normal" font-weight="normal"  textLength="16.9" lengthAdjust="spacingAndGlyphs">MLP</text>
<path d="M584.5 350.7 L584.5 363.4" fill="none" stroke="#222" stroke-width="1"/>
<circle cx="584.8" cy="370.2" r="6.8" fill="#f3a279" stroke="#1c3346" stroke-width="1.2"/>
<line x1="584.80" y1="367.90" x2="584.80" y2="372.50" stroke="#111" stroke-width="1"/>
<line x1="586.79" y1="369.05" x2="582.81" y2="371.35" stroke="#111" stroke-width="1"/>
<line x1="586.79" y1="371.35" x2="582.81" y2="369.05" stroke="#111" stroke-width="1"/>
<path d="M584.5 377 L584.5 386.4" fill="none" stroke="#222" stroke-width="1" marker-end="url(#ah)"/>
<circle cx="584.8" cy="393.3" r="6.8" fill="#f3a279" stroke="#1c3346" stroke-width="1.2"/>
<path d="M581.9 393.3 H587.6999999999999 M584.8 390.40000000000003 V396.2" stroke="#111" stroke-width="1.1"/>
<path d="M584.5 400.1 L584.5 424.2" fill="none" stroke="#222" stroke-width="1" marker-end="url(#ah)"/>
<path d="M418.6 263.5 L477.3 263.5" fill="none" stroke="#222" stroke-width="1" marker-end="url(#ah)" stroke-dasharray="2.5,2,1000"/>
<path d="M418.6 370.5 L476.6 370.5" fill="none" stroke="#222" stroke-width="1" marker-end="url(#ah)" stroke-dasharray="2.5,2,1000"/>
<path d="M648.5 263.5 L591.8 263.5" fill="none" stroke="#222" stroke-width="1" marker-end="url(#ah)" stroke-dasharray="2.5,2,1000"/>
<path d="M648.5 370.5 L591.8 370.5" fill="none" stroke="#222" stroke-width="1" marker-end="url(#ah)" stroke-dasharray="2.5,2,1000"/>
<path d="M418.5 91 L446.8 96.5" fill="none" stroke="#222" stroke-width="1" marker-end="url(#ah)" stroke-dasharray="2.5,2,1000"/>
<path d="M418.5 108.5 L446.8 106" fill="none" stroke="#222" stroke-width="1" marker-end="url(#ah)" stroke-dasharray="2.5,2,1000"/>
<path d="M648.5 91.3 L622.8 98" fill="none" stroke="#222" stroke-width="1" marker-end="url(#ah)" stroke-dasharray="2.5,2,1000"/>
<path d="M648.5 108.5 L622.8 106" fill="none" stroke="#222" stroke-width="1" marker-end="url(#ah)" stroke-dasharray="2.5,2,1000"/>
<path d="M418.5 318 L445.8 323.2" fill="none" stroke="#222" stroke-width="1" marker-end="url(#ah)" stroke-dasharray="2.5,2,1000"/>
<path d="M418.5 335 L445.8 330.5" fill="none" stroke="#222" stroke-width="1" marker-end="url(#ah)" stroke-dasharray="2.5,2,1000"/>
<path d="M648.5 318 L627 323.5" fill="none" stroke="#222" stroke-width="1" marker-end="url(#ah)" stroke-dasharray="2.5,2,1000"/>
<path d="M648.5 335 L627 330.5" fill="none" stroke="#222" stroke-width="1" marker-end="url(#ah)" stroke-dasharray="2.5,2,1000"/>
<text x="533.2" y="449.5" font-size="13.5" text-anchor="middle" fill="#1a1a1a" font-style="normal" font-weight="normal" textLength="126.3" lengthAdjust="spacingAndGlyphs">(b) Swin-MMDIT Details</text>
<rect x="717.4" y="18.4" width="282.6" height="373.4" rx="0" fill="#cdeefa" stroke="none" stroke-width="0" />
<text x="774.7" y="11.5" font-size="9" text-anchor="middle" font-style="italic" fill="#262626">Q<tspan font-size="7.28" dy="2">X&#8242;</tspan></text>
<text x="806" y="11.5" font-size="9" text-anchor="middle" font-style="italic" fill="#262626">K<tspan font-size="7.28" dy="2">X&#8242;</tspan></text>
<text x="832.5" y="11.5" font-size="9" text-anchor="middle" font-style="italic" fill="#262626">V<tspan font-size="7.28" dy="2">X&#8242;</tspan></text>
<text x="869.5" y="12" font-size="9" text-anchor="middle" font-style="italic" fill="#262626">Q<tspan font-size="7.28" dy="2">text</tspan></text>
<text x="901.5" y="12" font-size="9" text-anchor="middle" font-style="italic" fill="#262626">K<tspan font-size="7.28" dy="2">text</tspan></text>
<text x="937.5" y="12" font-size="9" text-anchor="middle" font-style="italic" fill="#262626">V<tspan font-size="7.28" dy="2">text</tspan></text>
<path d="M772.5 16 L772.5 22.5 L847.5 22.5 L847.5 30.4" fill="none" stroke="#222" stroke-width="1.2" marker-end="url(#ah)"/>
<path d="M804.5 16 L804.5 22.7" fill="none" stroke="#222" stroke-width="1.2"/>
<path d="M831.5 16 L831.5 22.7" fill="none" stroke="#222" stroke-width="1.2"/>
<path d="M865.5 15 L865.5 36.5 L992.5 36.5 L992.5 318.5 L980.6 318.5" fill="none" stroke="#222" stroke-width="1.2" marker-end="url(#ah)"/>
<path d="M897.5 15 L897.5 36" fill="none" stroke="#222" stroke-width="1.2"/>
<path d="M934.5 16 L934.5 36" fill="none" stroke="#222" stroke-width="1.2"/>
<path d="M992.2 211.5 L980.6 211.5" fill="none" stroke="#222" stroke-width="1.2" marker-end="url(#ah)"/>
<text x="845.5" y="43.4" font-size="9" text-anchor="middle" fill="#1a1a1a" font-style="normal" font-weight="normal" >Unflatten</text>
<path d="M847.5 48 L847.5 72.6" fill="none" stroke="#222" stroke-width="1.1" marker-end="url(#ah)"/>
<text x="847" y="87.6" font-size="12.5" text-anchor="middle" fill="#1a1a1a" font-style="normal" font-weight="bold" >Or</text>
<path d="M847.5 101.7 L847.5 133.3" fill="none" stroke="#222" stroke-width="1.1" marker-end="url(#ah)"/>
<text x="851.5" y="118.6" font-size="9" text-anchor="start" fill="#1a1a1a" font-style="normal" font-weight="normal" >Flatten</text>
<polygon points="783.38,116.84 769.12,109.48 769.12,90.16 783.38,97.52" fill="#bcc5ef" stroke="#7585c8" stroke-width="0.6" fill-opacity="1" stroke-linejoin="round"/>
<line x1="779.10" y1="114.63" x2="779.10" y2="95.31" stroke="#9ba6d8" stroke-width="0.5"/>
<line x1="774.54" y1="112.28" x2="774.54" y2="92.96" stroke="#9ba6d8" stroke-width="0.5"/>
<line x1="783.38" y1="111.04" x2="769.12" y2="106.58" stroke="#b3bde6" stroke-width="0.5"/>
<polygon points="783.38,95.84 769.12,88.48 769.12,69.16 783.38,76.52" fill="#bcc5ef" stroke="#7585c8" stroke-width="0.6" fill-opacity="1" stroke-linejoin="round"/>
<line x1="779.10" y1="93.63" x2="779.10" y2="74.31" stroke="#9ba6d8" stroke-width="0.5"/>
<line x1="774.54" y1="91.28" x2="774.54" y2="71.96" stroke="#9ba6d8" stroke-width="0.5"/>
<line x1="783.38" y1="90.04" x2="769.12" y2="85.58" stroke="#b3bde6" stroke-width="0.5"/>
<polygon points="767.88,108.84 753.62,101.48 753.62,82.16 767.88,89.52" fill="#e2e7f8" stroke="#7585c8" stroke-width="0.6" fill-opacity="1" stroke-linejoin="round"/>
<line x1="763.60" y1="106.63" x2="763.60" y2="87.31" stroke="#9ba6d8" stroke-width="0.5"/>
<line x1="759.04" y1="104.28" x2="759.04" y2="84.96" stroke="#9ba6d8" stroke-width="0.5"/>
<line x1="767.88" y1="103.04" x2="753.62" y2="98.58" stroke="#b3bde6" stroke-width="0.5"/>
<polygon points="767.88,87.84 753.62,80.48 753.62,61.16 767.88,68.52" fill="#e2e7f8" stroke="#7585c8" stroke-width="0.6" fill-opacity="1" stroke-linejoin="round"/>
<line x1="763.60" y1="85.63" x2="763.60" y2="66.31" stroke="#9ba6d8" stroke-width="0.5"/>
<line x1="759.04" y1="83.28" x2="759.04" y2="63.96" stroke="#9ba6d8" stroke-width="0.5"/>
<line x1="767.88" y1="82.04" x2="753.62" y2="77.58" stroke="#b3bde6" stroke-width="0.5"/>
<polygon points="784.68,116.80 800.32,108.52 800.32,89.20 784.68,97.48" fill="#8797e0" stroke="#7585c8" stroke-width="0.6" fill-opacity="1" stroke-linejoin="round"/>
<polygon points="787.50,112.41 798.44,106.62 798.44,94.06 787.50,99.85" fill="#a2b0ea" stroke="#7f8ed4" stroke-width="0.4" fill-opacity="1" stroke-linejoin="round"/>
<polygon points="784.68,95.80 800.32,87.52 800.32,68.20 784.68,76.48" fill="#8797e0" stroke="#7585c8" stroke-width="0.6" fill-opacity="1" stroke-linejoin="round"/>
<polygon points="787.50,91.41 798.44,85.62 798.44,73.06 787.50,78.85" fill="#a2b0ea" stroke="#7f8ed4" stroke-width="0.4" fill-opacity="1" stroke-linejoin="round"/>
<polygon points="801.68,107.80 817.32,99.52 817.32,80.20 801.68,88.48" fill="#98a6e6" stroke="#7585c8" stroke-width="0.6" fill-opacity="1" stroke-linejoin="round"/>
<polygon points="804.50,103.41 815.44,97.62 815.44,85.06 804.50,90.85" fill="#a2b0ea" stroke="#7f8ed4" stroke-width="0.4" fill-opacity="1" stroke-linejoin="round"/>
<polygon points="801.68,86.80 817.32,78.52 817.32,59.20 801.68,67.48" fill="#98a6e6" stroke="#7585c8" stroke-width="0.6" fill-opacity="1" stroke-linejoin="round"/>
<polygon points="804.50,82.41 815.44,76.62 815.44,64.06 804.50,69.85" fill="#a2b0ea" stroke="#7f8ed4" stroke-width="0.4" fill-opacity="1" stroke-linejoin="round"/>
<polygon points="784.06,75.32 769.80,67.96 785.44,59.68 799.70,67.04" fill="#b9c6e8" stroke="#7585c8" stroke-width="0.6" fill-opacity="1" stroke-linejoin="round"/>
<line x1="788.75" y1="72.84" x2="774.49" y2="65.48" stroke="#8f9cd0" stroke-width="0.5"/>
<line x1="793.76" y1="70.19" x2="779.50" y2="62.83" stroke="#8f9cd0" stroke-width="0.5"/>
<polygon points="801.06,66.32 786.80,58.96 802.44,50.68 816.70,58.04" fill="#b9c6e8" stroke="#7585c8" stroke-width="0.6" fill-opacity="1" stroke-linejoin="round"/>
<line x1="805.75" y1="63.84" x2="791.49" y2="56.48" stroke="#8f9cd0" stroke-width="0.5"/>
<line x1="810.76" y1="61.19" x2="796.50" y2="53.83" stroke="#8f9cd0" stroke-width="0.5"/>
<polygon points="768.56,67.32 754.30,59.96 769.94,51.68 784.20,59.04" fill="#b9c6e8" stroke="#7585c8" stroke-width="0.6" fill-opacity="1" stroke-linejoin="round"/>
<line x1="773.25" y1="64.84" x2="758.99" y2="57.48" stroke="#8f9cd0" stroke-width="0.5"/>
<line x1="778.26" y1="62.19" x2="764.00" y2="54.83" stroke="#8f9cd0" stroke-width="0.5"/>
<polygon points="785.56,58.32 771.30,50.96 786.94,42.68 801.20,50.04" fill="#b9c6e8" stroke="#7585c8" stroke-width="0.6" fill-opacity="1" stroke-linejoin="round"/>
<line x1="790.25" y1="55.84" x2="775.99" y2="48.48" stroke="#8f9cd0" stroke-width="0.5"/>
<line x1="795.26" y1="53.19" x2="781.00" y2="45.83" stroke="#8f9cd0" stroke-width="0.5"/>
<polygon points="899.89,117.41 894.53,114.26 894.53,105.97 899.89,109.12" fill="#9aa8e7" stroke="#7585c8" stroke-width="0.6" fill-opacity="1" stroke-linejoin="round"/>
<line x1="898.28" y1="116.46" x2="898.28" y2="108.17" stroke="#9ba6d8" stroke-width="0.5"/>
<line x1="896.57" y1="115.46" x2="896.57" y2="107.16" stroke="#9ba6d8" stroke-width="0.5"/>
<line x1="899.89" y1="114.92" x2="894.53" y2="113.02" stroke="#b3bde6" stroke-width="0.5"/>
<polygon points="899.89,107.53 894.53,104.38 894.53,86.22 899.89,89.37" fill="#9aa8e7" stroke="#7585c8" stroke-width="0.6" fill-opacity="1" stroke-linejoin="round"/>
<line x1="898.28" y1="106.59" x2="898.28" y2="88.42" stroke="#9ba6d8" stroke-width="0.5"/>
<line x1="896.57" y1="105.58" x2="896.57" y2="87.41" stroke="#9ba6d8" stroke-width="0.5"/>
<line x1="899.89" y1="102.08" x2="894.53" y2="101.66" stroke="#b3bde6" stroke-width="0.5"/>
<polygon points="899.89,87.78 894.53,84.63 894.53,76.34 899.89,79.49" fill="#9aa8e7" stroke="#7585c8" stroke-width="0.6" fill-opacity="1" stroke-linejoin="round"/>
<line x1="898.28" y1="86.84" x2="898.28" y2="78.54" stroke="#9ba6d8" stroke-width="0.5"/>
<line x1="896.57" y1="85.83" x2="896.57" y2="77.54" stroke="#9ba6d8" stroke-width="0.5"/>
<line x1="899.89" y1="85.30" x2="894.53" y2="83.39" stroke="#b3bde6" stroke-width="0.5"/>
<polygon points="893.51,113.66 881.78,106.76 881.78,98.47 893.51,105.37" fill="#abb7ec" stroke="#7585c8" stroke-width="0.6" fill-opacity="1" stroke-linejoin="round"/>
<line x1="890.00" y1="111.59" x2="890.00" y2="103.29" stroke="#9ba6d8" stroke-width="0.5"/>
<line x1="886.24" y1="109.38" x2="886.24" y2="101.09" stroke="#9ba6d8" stroke-width="0.5"/>
<line x1="893.51" y1="111.17" x2="881.78" y2="105.52" stroke="#b3bde6" stroke-width="0.5"/>
<polygon points="893.51,103.78 881.78,96.88 881.78,78.72 893.51,85.62" fill="#abb7ec" stroke="#7585c8" stroke-width="0.6" fill-opacity="1" stroke-linejoin="round"/>
<line x1="890.00" y1="101.71" x2="890.00" y2="83.54" stroke="#9ba6d8" stroke-width="0.5"/>
<line x1="886.24" y1="99.51" x2="886.24" y2="81.34" stroke="#9ba6d8" stroke-width="0.5"/>
<line x1="893.51" y1="98.33" x2="881.78" y2="94.16" stroke="#b3bde6" stroke-width="0.5"/>
<polygon points="893.51,84.03 881.78,77.13 881.78,68.84 893.51,75.74" fill="#abb7ec" stroke="#7585c8" stroke-width="0.6" fill-opacity="1" stroke-linejoin="round"/>
<line x1="890.00" y1="81.97" x2="890.00" y2="73.67" stroke="#9ba6d8" stroke-width="0.5"/>
<line x1="886.24" y1="79.76" x2="886.24" y2="71.46" stroke="#9ba6d8" stroke-width="0.5"/>
<line x1="893.51" y1="81.55" x2="881.78" y2="75.89" stroke="#b3bde6" stroke-width="0.5"/>
<polygon points="880.76,106.16 875.41,103.01 875.41,94.72 880.76,97.87" fill="#dce3f6" stroke="#7585c8" stroke-width="0.6" fill-opacity="1" stroke-linejoin="round"/>
<line x1="879.16" y1="105.21" x2="879.16" y2="96.92" stroke="#9ba6d8" stroke-width="0.5"/>
<line x1="877.44" y1="104.21" x2="877.44" y2="95.91" stroke="#9ba6d8" stroke-width="0.5"/>
<line x1="880.76" y1="103.67" x2="875.41" y2="101.77" stroke="#b3bde6" stroke-width="0.5"/>
<polygon points="880.76,96.28 875.41,93.13 875.41,74.97 880.76,78.12" fill="#dce3f6" stroke="#7585c8" stroke-width="0.6" fill-opacity="1" stroke-linejoin="round"/>
<line x1="879.16" y1="95.34" x2="879.16" y2="77.17" stroke="#9ba6d8" stroke-width="0.5"/>
<line x1="877.44" y1="94.33" x2="877.44" y2="76.16" stroke="#9ba6d8" stroke-width="0.5"/>
<line x1="880.76" y1="90.83" x2="875.41" y2="90.41" stroke="#b3bde6" stroke-width="0.5"/>
<polygon points="880.76,76.53 875.41,73.38 875.41,65.09 880.76,68.24" fill="#dce3f6" stroke="#7585c8" stroke-width="0.6" fill-opacity="1" stroke-linejoin="round"/>
<line x1="879.16" y1="75.59" x2="879.16" y2="67.29" stroke="#9ba6d8" stroke-width="0.5"/>
<line x1="877.44" y1="74.58" x2="877.44" y2="66.29" stroke="#9ba6d8" stroke-width="0.5"/>
<line x1="880.76" y1="74.05" x2="875.41" y2="72.14" stroke="#b3bde6" stroke-width="0.5"/>
<polygon points="901.17,117.32 909.25,113.22 909.25,104.93 901.17,109.03" fill="#8797e0" stroke="#7585c8" stroke-width="0.6" fill-opacity="1" stroke-linejoin="round"/>
<polygon points="902.63,115.34 908.28,112.47 908.28,107.08 902.63,109.95" fill="#a2b0ea" stroke="#7f8ed4" stroke-width="0.4" fill-opacity="1" stroke-linejoin="round"/>
<polygon points="901.17,107.44 909.25,103.35 909.25,85.18 901.17,89.28" fill="#8797e0" stroke="#7585c8" stroke-width="0.6" fill-opacity="1" stroke-linejoin="round"/>
<polygon points="902.63,103.98 908.28,101.12 908.28,89.31 902.63,92.17" fill="#a2b0ea" stroke="#7f8ed4" stroke-width="0.4" fill-opacity="1" stroke-linejoin="round"/>
<polygon points="901.17,87.69 909.25,83.60 909.25,75.31 901.17,79.40" fill="#8797e0" stroke="#7585c8" stroke-width="0.6" fill-opacity="1" stroke-linejoin="round"/>
<polygon points="902.63,85.71 908.28,82.85 908.28,77.46 902.63,80.32" fill="#a2b0ea" stroke="#7f8ed4" stroke-width="0.4" fill-opacity="1" stroke-linejoin="round"/>
<polygon points="910.79,112.44 928.50,103.47 928.50,95.18 910.79,104.15" fill="#98a6e6" stroke="#7585c8" stroke-width="0.6" fill-opacity="1" stroke-linejoin="round"/>
<polygon points="913.98,109.59 926.38,103.31 926.38,97.92 913.98,104.19" fill="#a2b0ea" stroke="#7f8ed4" stroke-width="0.4" fill-opacity="1" stroke-linejoin="round"/>
<polygon points="910.79,102.57 928.50,93.60 928.50,75.43 910.79,84.40" fill="#98a6e6" stroke="#7585c8" stroke-width="0.6" fill-opacity="1" stroke-linejoin="round"/>
<polygon points="913.98,98.23 926.38,91.95 926.38,80.14 913.98,86.42" fill="#a2b0ea" stroke="#7f8ed4" stroke-width="0.4" fill-opacity="1" stroke-linejoin="round"/>
<polygon points="910.79,82.82 928.50,73.85 928.50,65.56 910.79,74.53" fill="#98a6e6" stroke="#7585c8" stroke-width="0.6" fill-opacity="1" stroke-linejoin="round"/>
<polygon points="913.98,79.96 926.38,73.68 926.38,68.29 913.98,74.57" fill="#a2b0ea" stroke="#7f8ed4" stroke-width="0.4" fill-opacity="1" stroke-linejoin="round"/>
<polygon points="930.04,102.69 938.13,98.60 938.13,90.31 930.04,94.40" fill="#98a6e6" stroke="#7585c8" stroke-width="0.6" fill-opacity="1" stroke-linejoin="round"/>
<polygon points="931.50,100.71 937.16,97.85 937.16,92.46 931.50,95.32" fill="#a2b0ea" stroke="#7f8ed4" stroke-width="0.4" fill-opacity="1" stroke-linejoin="round"/>
<polygon points="930.04,92.82 938.13,88.72 938.13,70.56 930.04,74.65" fill="#98a6e6" stroke="#7585c8" stroke-width="0.6" fill-opacity="1" stroke-linejoin="round"/>
<polygon points="931.50,89.36 937.16,86.49 937.16,74.68 931.50,77.55" fill="#a2b0ea" stroke="#7f8ed4" stroke-width="0.4" fill-opacity="1" stroke-linejoin="round"/>
<polygon points="930.04,73.07 938.13,68.97 938.13,60.68 930.04,64.78" fill="#98a6e6" stroke="#7585c8" stroke-width="0.6" fill-opacity="1" stroke-linejoin="round"/>
<polygon points="931.50,71.09 937.16,68.22 937.16,62.83 931.50,65.70" fill="#a2b0ea" stroke="#7f8ed4" stroke-width="0.4" fill-opacity="1" stroke-linejoin="round"/>
<polygon points="900.66,78.31 895.30,75.16 903.39,71.06 908.75,74.22" fill="#b9c6e8" stroke="#7585c8" stroke-width="0.6" fill-opacity="1" stroke-linejoin="round"/>
<line x1="903.09" y1="77.08" x2="897.73" y2="73.93" stroke="#8f9cd0" stroke-width="0.5"/>
<line x1="905.67" y1="75.77" x2="900.32" y2="72.62" stroke="#8f9cd0" stroke-width="0.5"/>
<polygon points="910.28,73.44 904.93,70.28 922.64,61.31 928.00,64.47" fill="#b9c6e8" stroke="#7585c8" stroke-width="0.6" fill-opacity="1" stroke-linejoin="round"/>
<line x1="915.60" y1="70.74" x2="910.24" y2="67.59" stroke="#8f9cd0" stroke-width="0.5"/>
<line x1="921.27" y1="67.87" x2="915.91" y2="64.72" stroke="#8f9cd0" stroke-width="0.5"/>
<polygon points="929.53,63.69 924.18,60.53 932.26,56.44 937.62,59.59" fill="#b9c6e8" stroke="#7585c8" stroke-width="0.6" fill-opacity="1" stroke-linejoin="round"/>
<line x1="931.96" y1="62.46" x2="926.61" y2="59.31" stroke="#8f9cd0" stroke-width="0.5"/>
<line x1="934.55" y1="61.15" x2="929.19" y2="58.00" stroke="#8f9cd0" stroke-width="0.5"/>
<polygon points="894.28,74.56 882.55,67.66 890.64,63.56 902.37,70.47" fill="#b9c6e8" stroke="#7585c8" stroke-width="0.6" fill-opacity="1" stroke-linejoin="round"/>
<line x1="896.71" y1="73.33" x2="884.98" y2="66.43" stroke="#8f9cd0" stroke-width="0.5"/>
<line x1="899.30" y1="72.02" x2="887.57" y2="65.12" stroke="#8f9cd0" stroke-width="0.5"/>
<polygon points="903.91,69.69 892.18,62.78 909.89,53.81 921.62,60.72" fill="#b9c6e8" stroke="#7585c8" stroke-width="0.6" fill-opacity="1" stroke-linejoin="round"/>
<line x1="909.22" y1="66.99" x2="897.49" y2="60.09" stroke="#8f9cd0" stroke-width="0.5"/>
<line x1="914.89" y1="64.12" x2="903.16" y2="57.22" stroke="#8f9cd0" stroke-width="0.5"/>
<polygon points="923.16,59.94 911.43,53.03 919.51,48.94 931.25,55.84" fill="#b9c6e8" stroke="#7585c8" stroke-width="0.6" fill-opacity="1" stroke-linejoin="round"/>
<line x1="925.59" y1="58.71" x2="913.86" y2="51.81" stroke="#8f9cd0" stroke-width="0.5"/>
<line x1="928.17" y1="57.40" x2="916.44" y2="50.50" stroke="#8f9cd0" stroke-width="0.5"/>
<polygon points="881.53,67.06 876.18,63.91 884.26,59.81 889.62,62.97" fill="#b9c6e8" stroke="#7585c8" stroke-width="0.6" fill-opacity="1" stroke-linejoin="round"/>
<line x1="883.96" y1="65.83" x2="878.61" y2="62.68" stroke="#8f9cd0" stroke-width="0.5"/>
<line x1="886.55" y1="64.52" x2="881.19" y2="61.37" stroke="#8f9cd0" stroke-width="0.5"/>
<polygon points="891.16,62.19 885.80,59.03 903.51,50.06 908.87,53.22" fill="#b9c6e8" stroke="#7585c8" stroke-width="0.6" fill-opacity="1" stroke-linejoin="round"/>
<line x1="896.47" y1="59.49" x2="891.12" y2="56.34" stroke="#8f9cd0" stroke-width="0.5"/>
<line x1="902.14" y1="56.62" x2="896.79" y2="53.47" stroke="#8f9cd0" stroke-width="0.5"/>
<polygon points="910.41,52.44 905.05,49.28 913.14,45.19 918.50,48.34" fill="#b9c6e8" stroke="#7585c8" stroke-width="0.6" fill-opacity="1" stroke-linejoin="round"/>
<line x1="912.84" y1="51.21" x2="907.48" y2="48.06" stroke="#8f9cd0" stroke-width="0.5"/>
<line x1="915.42" y1="49.90" x2="910.07" y2="46.75" stroke="#8f9cd0" stroke-width="0.5"/>
<text x="782" y="129.5" font-size="9.5" text-anchor="middle" fill="#1a1a1a" font-style="normal" font-weight="normal" >Unshifted</text>
<text x="907.2" y="131" font-size="9.5" text-anchor="middle" fill="#1a1a1a" font-style="normal" font-weight="normal" >Shifted</text>
<rect x="737.5" y="138.3" width="9.43" height="12.1" rx="0" fill="#c3c9ef" stroke="#8892d6" stroke-width="0.8" />
<rect x="746.92" y="138.3" width="9.43" height="12.1" rx="0" fill="#c3c9ef" stroke="#8892d6" stroke-width="0.8" />
<rect x="756.35" y="138.3" width="9.43" height="12.1" rx="0" fill="#c3c9ef" stroke="#8892d6" stroke-width="0.8" />
<rect x="765.77" y="138.3" width="9.43" height="12.1" rx="0" fill="#c3c9ef" stroke="#8892d6" stroke-width="0.8" />
<rect x="775.2" y="138.3" width="9.43" height="12.1" rx="0" fill="#c3c9ef" stroke="#8892d6" stroke-width="0.8" />
<rect x="784.62" y="138.3" width="9.43" height="12.1" rx="0" fill="#c3c9ef" stroke="#8892d6" stroke-width="0.8" />
<rect x="794.05" y="138.3" width="9.43" height="12.1" rx="0" fill="#c3c9ef" stroke="#8892d6" stroke-width="0.8" />
<rect x="803.48" y="138.3" width="9.43" height="12.1" rx="0" fill="#c3c9ef" stroke="#8892d6" stroke-width="0.8" />
<rect x="818.3" y="138.3" width="9.43" height="12.1" rx="0" fill="#f3c8ef" stroke="#b2529f" stroke-width="0.8" />
<rect x="827.72" y="138.3" width="9.43" height="12.1" rx="0" fill="#f3c8ef" stroke="#b2529f" stroke-width="0.8" />
<rect x="837.15" y="138.3" width="9.43" height="12.1" rx="0" fill="#f3c8ef" stroke="#b2529f" stroke-width="0.8" />
<rect x="846.57" y="138.3" width="9.43" height="12.1" rx="0" fill="#f3c8ef" stroke="#b2529f" stroke-width="0.8" />
<rect x="856.0" y="138.3" width="9.43" height="12.1" rx="0" fill="#f3c8ef" stroke="#b2529f" stroke-width="0.8" />
<rect x="865.42" y="138.3" width="9.43" height="12.1" rx="0" fill="#f3c8ef" stroke="#b2529f" stroke-width="0.8" />
<rect x="874.85" y="138.3" width="9.43" height="12.1" rx="0" fill="#f3c8ef" stroke="#b2529f" stroke-width="0.8" />
<rect x="884.27" y="138.3" width="9.43" height="12.1" rx="0" fill="#f3c8ef" stroke="#b2529f" stroke-width="0.8" />
<rect x="920.8" y="138.3" width="9.7" height="12.1" rx="0" fill="#fcdaca" stroke="#e08a5c" stroke-width="0.8" />
<rect x="930.5" y="138.3" width="9.7" height="12.1" rx="0" fill="#fcdaca" stroke="#e08a5c" stroke-width="0.8" />
<rect x="940.2" y="138.3" width="9.7" height="12.1" rx="0" fill="#fcdaca" stroke="#e08a5c" stroke-width="0.8" />
<circle cx="726.7" cy="144.5" r="0.65" fill="#222"/>
<circle cx="729.0" cy="144.5" r="0.65" fill="#222"/>
<circle cx="731.3" cy="144.5" r="0.65" fill="#222"/>
<circle cx="905.5" cy="144.5" r="0.65" fill="#222"/>
<circle cx="907.8" cy="144.5" r="0.65" fill="#222"/>
<circle cx="910.0999999999999" cy="144.5" r="0.65" fill="#222"/>
<text x="773.5" y="159.6" font-size="9" text-anchor="middle" fill="#1a1a1a" font-style="normal" font-weight="normal" >Window  n</text>
<text x="854.9" y="159.6" font-size="9" text-anchor="middle" fill="#1a1a1a" font-style="normal" font-weight="normal" >Window  n+1</text>
<text x="935" y="159.6" font-size="9" text-anchor="middle" fill="#1a1a1a" font-style="normal" font-weight="normal" >Window  N</text>
<rect x="735.5" y="168.4" width="244" height="85.6" fill="none" stroke="#333" stroke-width="0.8" stroke-dasharray="3,2"/>
<rect x="735.6" y="259.1" width="243.8" height="116.6" fill="none" stroke="#333" stroke-width="0.8" stroke-dasharray="3,2"/>
<text x="865.3" y="179.5" font-size="9.5" text-anchor="middle" fill="#1a1a1a" font-style="normal" font-weight="normal" >Video Window Attention</text>
<text x="867.5" y="187.8" font-size="8.5" text-anchor="middle" font-style="italic" fill="#262626">Q<tspan font-size="6.72" dy="2">X&#8242;</tspan></text>
<text x="865.6" y="240.5" font-size="8.5" text-anchor="middle" font-style="italic" fill="#262626">K<tspan font-size="6.72" dy="2">Cat</tspan></text>
<circle cx="863.0999999999999" cy="249.5" r="1.1" fill="#222"/>
<circle cx="867.3" cy="249.5" r="1.1" fill="#222"/>
<circle cx="871.5" cy="249.5" r="1.1" fill="#222"/>
<text x="865" y="270.5" font-size="9.5" text-anchor="middle" fill="#1a1a1a" font-style="normal" font-weight="normal" >Text Window Attention</text>
<text x="866" y="278.5" font-size="8.5" text-anchor="middle" font-style="italic" fill="#262626">Q<tspan font-size="6.72" dy="2">text</tspan></text>
<text x="864.7" y="331.5" font-size="8.5" text-anchor="middle" font-style="italic" fill="#262626">K<tspan font-size="6.72" dy="2">Cat</tspan></text>
<circle cx="863.0999999999999" cy="341" r="1.1" fill="#222"/>
<circle cx="867.3" cy="341" r="1.1" fill="#222"/>
<circle cx="871.5" cy="341" r="1.1" fill="#222"/>
<path d="M866.5 343.8 L866.5 355.5" fill="none" stroke="#222" stroke-width="1.1" marker-end="url(#ah)"/>
<text x="870.7" y="352" font-size="7.5" text-anchor="start" fill="#1a1a1a" font-style="normal" font-weight="normal" >Token Average Pooling</text>
<polygon points="748.1,202.6 757.7,202.6 817.2,221.6 748.1,221.6" fill="#b7c0ec" fill-opacity="0.38"/>
<polygon points="771.1,202.6 780.7,202.6 817.2,221.6 748.1,221.6" fill="#b7c0ec" fill-opacity="0.38"/>
<polygon points="795.1,202.6 804.7,202.6 817.2,221.6 748.1,221.6" fill="#b7c0ec" fill-opacity="0.38"/>
<line x1="752.9" y1="202.6" x2="748.1" y2="221.6" stroke="#8c96d8" stroke-width="0.7" stroke-dasharray="2,1.5"/>
<line x1="752.9" y1="202.6" x2="817.2" y2="221.6" stroke="#8c96d8" stroke-width="0.7" stroke-dasharray="2,1.5"/>
<line x1="775.9" y1="202.6" x2="748.1" y2="221.6" stroke="#8c96d8" stroke-width="0.7" stroke-dasharray="2,1.5"/>
<line x1="775.9" y1="202.6" x2="817.2" y2="221.6" stroke="#8c96d8" stroke-width="0.7" stroke-dasharray="2,1.5"/>
<line x1="799.9" y1="202.6" x2="748.1" y2="221.6" stroke="#8c96d8" stroke-width="0.7" stroke-dasharray="2,1.5"/>
<line x1="799.9" y1="202.6" x2="817.2" y2="221.6" stroke="#8c96d8" stroke-width="0.7" stroke-dasharray="2,1.5"/>
<line x1="748.1" y1="221.6" x2="817.2" y2="221.6" stroke="#8c96d8" stroke-width="0.7" stroke-dasharray="2,1.5"/>
<rect x="748.1" y="193.4" width="9.6" height="9.2" rx="0.8" fill="#c3c9ef" stroke="#8892d6" stroke-width="0.8" />
<rect x="771.1" y="193.4" width="9.6" height="9.2" rx="0.8" fill="#c3c9ef" stroke="#8892d6" stroke-width="0.8" />
<rect x="795.1" y="193.4" width="9.6" height="9.2" rx="0.8" fill="#c3c9ef" stroke="#8892d6" stroke-width="0.8" />
<rect x="748.1" y="221.6" width="9.4" height="9.1" rx="0.8" fill="#c3c9ef" stroke="#8892d6" stroke-width="0.8" />
<rect x="757.5" y="221.6" width="6.2" height="9.1" rx="0.8" fill="#b4e5a1" stroke="#5c9e4c" stroke-width="0.8" />
<rect x="766.8" y="221.6" width="9.1" height="9.1" rx="0.8" fill="#c3c9ef" stroke="#8892d6" stroke-width="0.8" />
<rect x="775.9" y="221.6" width="5.6" height="9.1" rx="0.8" fill="#b4e5a1" stroke="#5c9e4c" stroke-width="0.8" />
<rect x="802.3" y="221.6" width="9.1" height="9.1" rx="0.8" fill="#c3c9ef" stroke="#8892d6" stroke-width="0.8" />
<rect x="811.4" y="221.6" width="5.8" height="9.1" rx="0.8" fill="#b4e5a1" stroke="#5c9e4c" stroke-width="0.8" />
<circle cx="762.0" cy="197.8" r="0.85" fill="#222"/>
<circle cx="764.6" cy="197.8" r="0.85" fill="#222"/>
<circle cx="767.2" cy="197.8" r="0.85" fill="#222"/>
<circle cx="786.0" cy="197.8" r="0.85" fill="#222"/>
<circle cx="788.6" cy="197.8" r="0.85" fill="#222"/>
<circle cx="791.2" cy="197.8" r="0.85" fill="#222"/>
<circle cx="788.6" cy="227.2" r="0.85" fill="#222"/>
<circle cx="791.2" cy="227.2" r="0.85" fill="#222"/>
<circle cx="793.8000000000001" cy="227.2" r="0.85" fill="#222"/>
<polygon points="830.3,203.0 839.1999999999999,203.0 898.2,221.8 830.3,221.8" fill="#e8b6e6" fill-opacity="0.38"/>
<polygon points="853,203.0 861.9,203.0 898.2,221.8 830.3,221.8" fill="#e8b6e6" fill-opacity="0.38"/>
<polygon points="877,203.0 885.9,203.0 898.2,221.8 830.3,221.8" fill="#e8b6e6" fill-opacity="0.38"/>
<line x1="834.75" y1="203.0" x2="830.3" y2="221.8" stroke="#b85aa8" stroke-width="0.7" stroke-dasharray="2,1.5"/>
<line x1="834.75" y1="203.0" x2="898.2" y2="221.8" stroke="#b85aa8" stroke-width="0.7" stroke-dasharray="2,1.5"/>
<line x1="857.45" y1="203.0" x2="830.3" y2="221.8" stroke="#b85aa8" stroke-width="0.7" stroke-dasharray="2,1.5"/>
<line x1="857.45" y1="203.0" x2="898.2" y2="221.8" stroke="#b85aa8" stroke-width="0.7" stroke-dasharray="2,1.5"/>
<line x1="881.45" y1="203.0" x2="830.3" y2="221.8" stroke="#b85aa8" stroke-width="0.7" stroke-dasharray="2,1.5"/>
<line x1="881.45" y1="203.0" x2="898.2" y2="221.8" stroke="#b85aa8" stroke-width="0.7" stroke-dasharray="2,1.5"/>
<line x1="830.3" y1="221.8" x2="898.2" y2="221.8" stroke="#b85aa8" stroke-width="0.7" stroke-dasharray="2,1.5"/>
<rect x="830.3" y="193.4" width="8.9" height="9.6" rx="0.8" fill="#f3c8ef" stroke="#b2529f" stroke-width="0.8" />
<rect x="853" y="193.4" width="8.9" height="9.6" rx="0.8" fill="#f3c8ef" stroke="#b2529f" stroke-width="0.8" />
<rect x="877" y="193.4" width="8.9" height="9.6" rx="0.8" fill="#f3c8ef" stroke="#b2529f" stroke-width="0.8" />
<rect x="830.3" y="221.8" width="9.0" height="9.6" rx="0.8" fill="#f3c8ef" stroke="#b2529f" stroke-width="0.8" />
<rect x="839.3" y="221.8" width="5.7" height="9.6" rx="0.8" fill="#b4e5a1" stroke="#5c9e4c" stroke-width="0.8" />
<rect x="847.2" y="221.8" width="9.4" height="9.6" rx="0.8" fill="#f3c8ef" stroke="#b2529f" stroke-width="0.8" />
<rect x="856.6" y="221.8" width="6.1" height="9.6" rx="0.8" fill="#b4e5a1" stroke="#5c9e4c" stroke-width="0.8" />
<rect x="883.2" y="221.8" width="9.5" height="9.6" rx="0.8" fill="#f3c8ef" stroke="#b2529f" stroke-width="0.8" />
<rect x="892.7" y="221.8" width="5.5" height="9.6" rx="0.8" fill="#b4e5a1" stroke="#5c9e4c" stroke-width="0.8" />
<circle cx="842.9" cy="197.8" r="0.85" fill="#222"/>
<circle cx="845.5" cy="197.8" r="0.85" fill="#222"/>
<circle cx="848.1" cy="197.8" r="0.85" fill="#222"/>
<circle cx="867.1999999999999" cy="197.8" r="0.85" fill="#222"/>
<circle cx="869.8" cy="197.8" r="0.85" fill="#222"/>
<circle cx="872.4" cy="197.8" r="0.85" fill="#222"/>
<circle cx="869.5" cy="227.2" r="0.85" fill="#222"/>
<circle cx="872.1" cy="227.2" r="0.85" fill="#222"/>
<circle cx="874.7" cy="227.2" r="0.85" fill="#222"/>
<polygon points="917.7,203.6 927.3000000000001,203.6 976.8,222.4 917.7,222.4" fill="#f0d8cc" fill-opacity="0.38"/>
<polygon points="940.7,203.6 950.3000000000001,203.6 976.8,222.4 917.7,222.4" fill="#f0d8cc" fill-opacity="0.38"/>
<polygon points="964.1,203.6 973.7,203.6 976.8,222.4 917.7,222.4" fill="#f0d8cc" fill-opacity="0.38"/>
<line x1="922.5" y1="203.6" x2="917.7" y2="222.4" stroke="#d98a60" stroke-width="0.7" stroke-dasharray="2,1.5"/>
<line x1="922.5" y1="203.6" x2="976.8" y2="222.4" stroke="#d98a60" stroke-width="0.7" stroke-dasharray="2,1.5"/>
<line x1="945.5" y1="203.6" x2="917.7" y2="222.4" stroke="#d98a60" stroke-width="0.7" stroke-dasharray="2,1.5"/>
<line x1="945.5" y1="203.6" x2="976.8" y2="222.4" stroke="#d98a60" stroke-width="0.7" stroke-dasharray="2,1.5"/>
<line x1="968.9" y1="203.6" x2="917.7" y2="222.4" stroke="#d98a60" stroke-width="0.7" stroke-dasharray="2,1.5"/>
<line x1="968.9" y1="203.6" x2="976.8" y2="222.4" stroke="#d98a60" stroke-width="0.7" stroke-dasharray="2,1.5"/>
<line x1="917.7" y1="222.4" x2="976.8" y2="222.4" stroke="#d98a60" stroke-width="0.7" stroke-dasharray="2,1.5"/>
<rect x="917.7" y="193.4" width="9.6" height="10.2" rx="0.8" fill="#fcdaca" stroke="#e08a5c" stroke-width="0.8" />
<rect x="940.7" y="193.4" width="9.6" height="10.2" rx="0.8" fill="#fcdaca" stroke="#e08a5c" stroke-width="0.8" />
<rect x="964.1" y="193.4" width="9.6" height="10.2" rx="0.8" fill="#fcdaca" stroke="#e08a5c" stroke-width="0.8" />
<rect x="917.7" y="222.4" width="9.1" height="10" rx="0.8" fill="#fcdaca" stroke="#e08a5c" stroke-width="0.8" />
<rect x="926.8" y="222.4" width="5.6" height="10" rx="0.8" fill="#b4e5a1" stroke="#5c9e4c" stroke-width="0.8" />
<rect x="939.8" y="222.4" width="8.7" height="10" rx="0.8" fill="#fcdaca" stroke="#e08a5c" stroke-width="0.8" />
<rect x="948.5" y="222.4" width="6.2" height="10" rx="0.8" fill="#b4e5a1" stroke="#5c9e4c" stroke-width="0.8" />
<rect x="961.5" y="222.4" width="9.5" height="10" rx="0.8" fill="#fcdaca" stroke="#e08a5c" stroke-width="0.8" />
<rect x="971" y="222.4" width="5.8" height="10" rx="0.8" fill="#b4e5a1" stroke="#5c9e4c" stroke-width="0.8" />
<circle cx="738.7" cy="211" r="0.8" fill="#222"/>
<circle cx="741.2" cy="211" r="0.8" fill="#222"/>
<circle cx="743.7" cy="211" r="0.8" fill="#222"/>
<circle cx="903.9" cy="212.3" r="0.8" fill="#222"/>
<circle cx="906.4" cy="212.3" r="0.8" fill="#222"/>
<circle cx="908.9" cy="212.3" r="0.8" fill="#222"/>
<polygon points="748.8,293.8 755.3,293.8 816.9,312.2 748.2,312.2" fill="#a8e09a" fill-opacity="0.38"/>
<polygon points="774,293.8 780.5,293.8 816.9,312.2 748.2,312.2" fill="#a8e09a" fill-opacity="0.38"/>
<polygon points="797.1,293.8 803.6,293.8 816.9,312.2 748.2,312.2" fill="#a8e09a" fill-opacity="0.38"/>
<line x1="752.05" y1="293.8" x2="748.2" y2="312.2" stroke="#5c9e4c" stroke-width="0.7" stroke-dasharray="2,1.5"/>
<line x1="752.05" y1="293.8" x2="816.9" y2="312.2" stroke="#5c9e4c" stroke-width="0.7" stroke-dasharray="2,1.5"/>
<line x1="777.25" y1="293.8" x2="748.2" y2="312.2" stroke="#5c9e4c" stroke-width="0.7" stroke-dasharray="2,1.5"/>
<line x1="777.25" y1="293.8" x2="816.9" y2="312.2" stroke="#5c9e4c" stroke-width="0.7" stroke-dasharray="2,1.5"/>
<line x1="800.35" y1="293.8" x2="748.2" y2="312.2" stroke="#5c9e4c" stroke-width="0.7" stroke-dasharray="2,1.5"/>
<line x1="800.35" y1="293.8" x2="816.9" y2="312.2" stroke="#5c9e4c" stroke-width="0.7" stroke-dasharray="2,1.5"/>
<line x1="748.2" y1="312.2" x2="816.9" y2="312.2" stroke="#5c9e4c" stroke-width="0.7" stroke-dasharray="2,1.5"/>
<rect x="748.8" y="283.2" width="6.5" height="10.6" rx="0.8" fill="#b4e5a1" stroke="#5c9e4c" stroke-width="0.8" />
<rect x="774" y="283.2" width="6.5" height="10.6" rx="0.8" fill="#b4e5a1" stroke="#5c9e4c" stroke-width="0.8" />
<rect x="797.1" y="283.2" width="6.5" height="10.6" rx="0.8" fill="#b4e5a1" stroke="#5c9e4c" stroke-width="0.8" />
<rect x="748.2" y="312.2" width="8.7" height="10.1" rx="0.8" fill="#c3c9ef" stroke="#8892d6" stroke-width="0.8" />
<rect x="756.9" y="312.2" width="6.9" height="10.1" rx="0.8" fill="#b4e5a1" stroke="#5c9e4c" stroke-width="0.8" />
<rect x="766.4" y="312.2" width="8.9" height="10.1" rx="0.8" fill="#c3c9ef" stroke="#8892d6" stroke-width="0.8" />
<rect x="775.3" y="312.2" width="6.3" height="10.1" rx="0.8" fill="#b4e5a1" stroke="#5c9e4c" stroke-width="0.8" />
<rect x="802" y="312.2" width="8.8" height="10.1" rx="0.8" fill="#c3c9ef" stroke="#8892d6" stroke-width="0.8" />
<rect x="810.8" y="312.2" width="6.1" height="10.1" rx="0.8" fill="#b4e5a1" stroke="#5c9e4c" stroke-width="0.8" />
<circle cx="761.4" cy="288.2" r="0.85" fill="#222"/>
<circle cx="764.0" cy="288.2" r="0.85" fill="#222"/>
<circle cx="766.6" cy="288.2" r="0.85" fill="#222"/>
<circle cx="785.6999999999999" cy="288.2" r="0.85" fill="#222"/>
<circle cx="788.3" cy="288.2" r="0.85" fill="#222"/>
<circle cx="790.9" cy="288.2" r="0.85" fill="#222"/>
<circle cx="788.0" cy="318" r="0.85" fill="#222"/>
<circle cx="790.6" cy="318" r="0.85" fill="#222"/>
<circle cx="793.2" cy="318" r="0.85" fill="#222"/>
<polygon points="831,293.8 836.7,293.8 898,313.4 830.2,313.4" fill="#a8e09a" fill-opacity="0.38"/>
<polygon points="855.2,293.8 860.9000000000001,293.8 898,313.4 830.2,313.4" fill="#a8e09a" fill-opacity="0.38"/>
<polygon points="879.2,293.8 884.9000000000001,293.8 898,313.4 830.2,313.4" fill="#a8e09a" fill-opacity="0.38"/>
<line x1="833.85" y1="293.8" x2="830.2" y2="313.4" stroke="#5c9e4c" stroke-width="0.7" stroke-dasharray="2,1.5"/>
<line x1="833.85" y1="293.8" x2="898" y2="313.4" stroke="#5c9e4c" stroke-width="0.7" stroke-dasharray="2,1.5"/>
<line x1="858.0500000000001" y1="293.8" x2="830.2" y2="313.4" stroke="#5c9e4c" stroke-width="0.7" stroke-dasharray="2,1.5"/>
<line x1="858.0500000000001" y1="293.8" x2="898" y2="313.4" stroke="#5c9e4c" stroke-width="0.7" stroke-dasharray="2,1.5"/>
<line x1="882.0500000000001" y1="293.8" x2="830.2" y2="313.4" stroke="#5c9e4c" stroke-width="0.7" stroke-dasharray="2,1.5"/>
<line x1="882.0500000000001" y1="293.8" x2="898" y2="313.4" stroke="#5c9e4c" stroke-width="0.7" stroke-dasharray="2,1.5"/>
<line x1="830.2" y1="313.4" x2="898" y2="313.4" stroke="#5c9e4c" stroke-width="0.7" stroke-dasharray="2,1.5"/>
<rect x="831" y="283.6" width="5.7" height="10.2" rx="0.8" fill="#b4e5a1" stroke="#5c9e4c" stroke-width="0.8" />
<rect x="855.2" y="283.6" width="5.7" height="10.2" rx="0.8" fill="#b4e5a1" stroke="#5c9e4c" stroke-width="0.8" />
<rect x="879.2" y="283.6" width="5.7" height="10.2" rx="0.8" fill="#b4e5a1" stroke="#5c9e4c" stroke-width="0.8" />
<rect x="830.2" y="313.4" width="8.5" height="9.3" rx="0.8" fill="#f3c8ef" stroke="#b2529f" stroke-width="0.8" />
<rect x="838.7" y="313.4" width="6.3" height="9.3" rx="0.8" fill="#b4e5a1" stroke="#5c9e4c" stroke-width="0.8" />
<rect x="847.2" y="313.4" width="9.4" height="9.3" rx="0.8" fill="#f3c8ef" stroke="#b2529f" stroke-width="0.8" />
<rect x="856.6" y="313.4" width="6.0" height="9.3" rx="0.8" fill="#b4e5a1" stroke="#5c9e4c" stroke-width="0.8" />
<rect x="882.6" y="313.4" width="10.2" height="9.3" rx="0.8" fill="#f3c8ef" stroke="#b2529f" stroke-width="0.8" />
<rect x="892.8" y="313.4" width="5.2" height="9.3" rx="0.8" fill="#b4e5a1" stroke="#5c9e4c" stroke-width="0.8" />
<circle cx="842.9" cy="288.2" r="0.85" fill="#222"/>
<circle cx="845.5" cy="288.2" r="0.85" fill="#222"/>
<circle cx="848.1" cy="288.2" r="0.85" fill="#222"/>
<circle cx="867.1999999999999" cy="288.2" r="0.85" fill="#222"/>
<circle cx="869.8" cy="288.2" r="0.85" fill="#222"/>
<circle cx="872.4" cy="288.2" r="0.85" fill="#222"/>
<circle cx="869.3" cy="318" r="0.85" fill="#222"/>
<circle cx="871.9" cy="318" r="0.85" fill="#222"/>
<circle cx="874.5" cy="318" r="0.85" fill="#222"/>
<polygon points="918.6,293.8 924.6,293.8 976.7,313.4 917.2,313.4" fill="#a8e09a" fill-opacity="0.38"/>
<polygon points="942.4,293.8 948.4,293.8 976.7,313.4 917.2,313.4" fill="#a8e09a" fill-opacity="0.38"/>
<polygon points="965,293.8 971,293.8 976.7,313.4 917.2,313.4" fill="#a8e09a" fill-opacity="0.38"/>
<line x1="921.6" y1="293.8" x2="917.2" y2="313.4" stroke="#5c9e4c" stroke-width="0.7" stroke-dasharray="2,1.5"/>
<line x1="921.6" y1="293.8" x2="976.7" y2="313.4" stroke="#5c9e4c" stroke-width="0.7" stroke-dasharray="2,1.5"/>
<line x1="945.4" y1="293.8" x2="917.2" y2="313.4" stroke="#5c9e4c" stroke-width="0.7" stroke-dasharray="2,1.5"/>
<line x1="945.4" y1="293.8" x2="976.7" y2="313.4" stroke="#5c9e4c" stroke-width="0.7" stroke-dasharray="2,1.5"/>
<line x1="968.0" y1="293.8" x2="917.2" y2="313.4" stroke="#5c9e4c" stroke-width="0.7" stroke-dasharray="2,1.5"/>
<line x1="968.0" y1="293.8" x2="976.7" y2="313.4" stroke="#5c9e4c" stroke-width="0.7" stroke-dasharray="2,1.5"/>
<line x1="917.2" y1="313.4" x2="976.7" y2="313.4" stroke="#5c9e4c" stroke-width="0.7" stroke-dasharray="2,1.5"/>
<rect x="918.6" y="283.6" width="6" height="10.2" rx="0.8" fill="#b4e5a1" stroke="#5c9e4c" stroke-width="0.8" />
<rect x="942.4" y="283.6" width="6" height="10.2" rx="0.8" fill="#b4e5a1" stroke="#5c9e4c" stroke-width="0.8" />
<rect x="965" y="283.6" width="6" height="10.2" rx="0.8" fill="#b4e5a1" stroke="#5c9e4c" stroke-width="0.8" />
<rect x="917.2" y="313.4" width="9.6" height="9.3" rx="0.8" fill="#fcdaca" stroke="#e08a5c" stroke-width="0.8" />
<rect x="926.8" y="313.4" width="5.8" height="9.3" rx="0.8" fill="#b4e5a1" stroke="#5c9e4c" stroke-width="0.8" />
<rect x="939.5" y="313.4" width="8.9" height="9.3" rx="0.8" fill="#fcdaca" stroke="#e08a5c" stroke-width="0.8" />
<rect x="948.4" y="313.4" width="6.1" height="9.3" rx="0.8" fill="#b4e5a1" stroke="#5c9e4c" stroke-width="0.8" />
<rect x="961.6" y="313.4" width="9.2" height="9.3" rx="0.8" fill="#fcdaca" stroke="#e08a5c" stroke-width="0.8" />
<rect x="970.8" y="313.4" width="5.9" height="9.3" rx="0.8" fill="#b4e5a1" stroke="#5c9e4c" stroke-width="0.8" />
<circle cx="931.6" cy="288.2" r="0.85" fill="#222"/>
<circle cx="934.2" cy="288.2" r="0.85" fill="#222"/>
<circle cx="936.8000000000001" cy="288.2" r="0.85" fill="#222"/>
<circle cx="953.4" cy="288.2" r="0.85" fill="#222"/>
<circle cx="956.0" cy="288.2" r="0.85" fill="#222"/>
<circle cx="958.6" cy="288.2" r="0.85" fill="#222"/>
<circle cx="738.5" cy="303.8" r="0.8" fill="#222"/>
<circle cx="741.0" cy="303.8" r="0.8" fill="#222"/>
<circle cx="743.5" cy="303.8" r="0.8" fill="#222"/>
<circle cx="903.9" cy="303.2" r="0.8" fill="#222"/>
<circle cx="906.4" cy="303.2" r="0.8" fill="#222"/>
<circle cx="908.9" cy="303.2" r="0.8" fill="#222"/>
<rect x="826.2" y="358.5" width="81.6" height="11.6" rx="0" fill="#b4e5a1" stroke="#5c9e4c" stroke-width="0.8" />
<line x1="832.6" y1="358.5" x2="832.6" y2="370.1" stroke="#5c9e4c" stroke-width="0.7"/>
<line x1="839.5" y1="358.5" x2="839.5" y2="370.1" stroke="#5c9e4c" stroke-width="0.7"/>
<line x1="846.7" y1="358.5" x2="846.7" y2="370.1" stroke="#5c9e4c" stroke-width="0.7"/>
<line x1="881.4" y1="358.5" x2="881.4" y2="370.1" stroke="#5c9e4c" stroke-width="0.7"/>
<line x1="887.9" y1="358.5" x2="887.9" y2="370.1" stroke="#5c9e4c" stroke-width="0.7"/>
<line x1="894.8" y1="358.5" x2="894.8" y2="370.1" stroke="#5c9e4c" stroke-width="0.7"/>
<line x1="901.7" y1="358.5" x2="901.7" y2="370.1" stroke="#5c9e4c" stroke-width="0.7"/>
<circle cx="861.9" cy="365" r="0.75" fill="#222"/>
<circle cx="864.9" cy="365" r="0.75" fill="#222"/>
<circle cx="867.9" cy="365" r="0.75" fill="#222"/>
<path d="M724.4 211.5 L735.5 211.5" fill="none" stroke="#222" stroke-width="1.2"/>
<path d="M724.5 211 L724.5 382.5 L781.5 382.5 L781.5 407" fill="none" stroke="#222" stroke-width="1.2" marker-end="url(#ah)"/>
<path d="M862.5 370.1 L862.5 407" fill="none" stroke="#222" stroke-width="1.2" marker-end="url(#ah)"/>
<g filter="url(#wmb)" opacity="0.5">
<ellipse cx="710" cy="418" rx="16" ry="14" fill="#cfcfcf"/>
<ellipse cx="724" cy="426" rx="14" ry="12" fill="#cfcfcf"/>
<rect x="743" y="404" width="28" height="32" rx="6" fill="#d8d8d8"/>
<rect x="772" y="404" width="28" height="32" rx="6" fill="#d8d8d8"/>
<rect x="801" y="404" width="28" height="32" rx="6" fill="#d8d8d8"/>
<rect x="862" y="404" width="28" height="32" rx="6" fill="#d8d8d8"/>
<rect x="891" y="404" width="28" height="32" rx="6" fill="#d8d8d8"/>
<rect x="920" y="404" width="28" height="32" rx="6" fill="#d8d8d8"/>
<rect x="946" y="404" width="26" height="32" rx="6" fill="#d8d8d8"/>
</g>
<g fill="none" stroke="#fbfbfb" stroke-width="2.6" stroke-linecap="round" opacity="0.9">
<path d="M750 409 L745 418 M762 409 L769 418 M756 419 L747 431 L768 430 M762 424 L768 431"/>
<path d="M786 407 L778 419 M786 407 L794 419 M779 421 L774 432 M781 421 L785 432 M792 421 L788 432 M792 421 L798 432"/>
<path d="M806 408 H824 V414 H806 Z M803 418 H828 M809 418 L807 424 H825 Q825 433 817 432"/>
<path d="M866 409 V415 M876 407 V415 M886 409 V415 M864 412 H888 M866 418 H886 V424 M876 418 V434 M866 424 V430 H886"/>
<path d="M897 406 L893 416 M895 413 V433 M905 406 L902 413 H918 L915 418 M909 413 V433 L906 432 M903 421 L900 428 M913 421 L917 428"/>
<path d="M926 406 L928 410 M934 405 V410 M942 406 L940 410 M924 412 V415 M924 412 H946 V415 M929 417 H941 L935 422 V433 L932 432 M925 425 H945"/>
<path d="M950 433 L957 407 L964 433 M953 424 H961 M968 407 V433"/>
</g>
<circle cx="845" cy="420" r="2" fill="#e4e4e4"/>
<ellipse cx="709" cy="415" rx="11" ry="9.5" fill="#fafafa"/><path d="M702 422 L700 428 L707 424 Z" fill="#fafafa"/>
<ellipse cx="725" cy="425" rx="10" ry="8.5" fill="#fdfdfd" stroke="#ececec" stroke-width="0.8"/><path d="M731 431 L734 436 L727 433 Z" fill="#fdfdfd"/>
<circle cx="705" cy="412" r="1.3" fill="#e6e6e6"/><circle cx="713" cy="412" r="1.3" fill="#e6e6e6"/><circle cx="721.5" cy="422.5" r="1.1" fill="#e6e6e6"/><circle cx="728.5" cy="422.5" r="1.1" fill="#e6e6e6"/>
<text x="780" y="419" font-size="9" text-anchor="middle" fill="#1a1a1a" font-style="normal" font-weight="normal" >Video Feature</text>
<text x="861.2" y="419" font-size="9" text-anchor="middle" fill="#1a1a1a" font-style="normal" font-weight="normal" >Text Feature</text>
<text x="862.7" y="449.5" font-size="13.5" text-anchor="middle" fill="#1a1a1a" font-style="normal" font-weight="normal" textLength="191" lengthAdjust="spacingAndGlyphs">(c) (Shifted) Window Attention Details</text>
</svg>
</body></html>
